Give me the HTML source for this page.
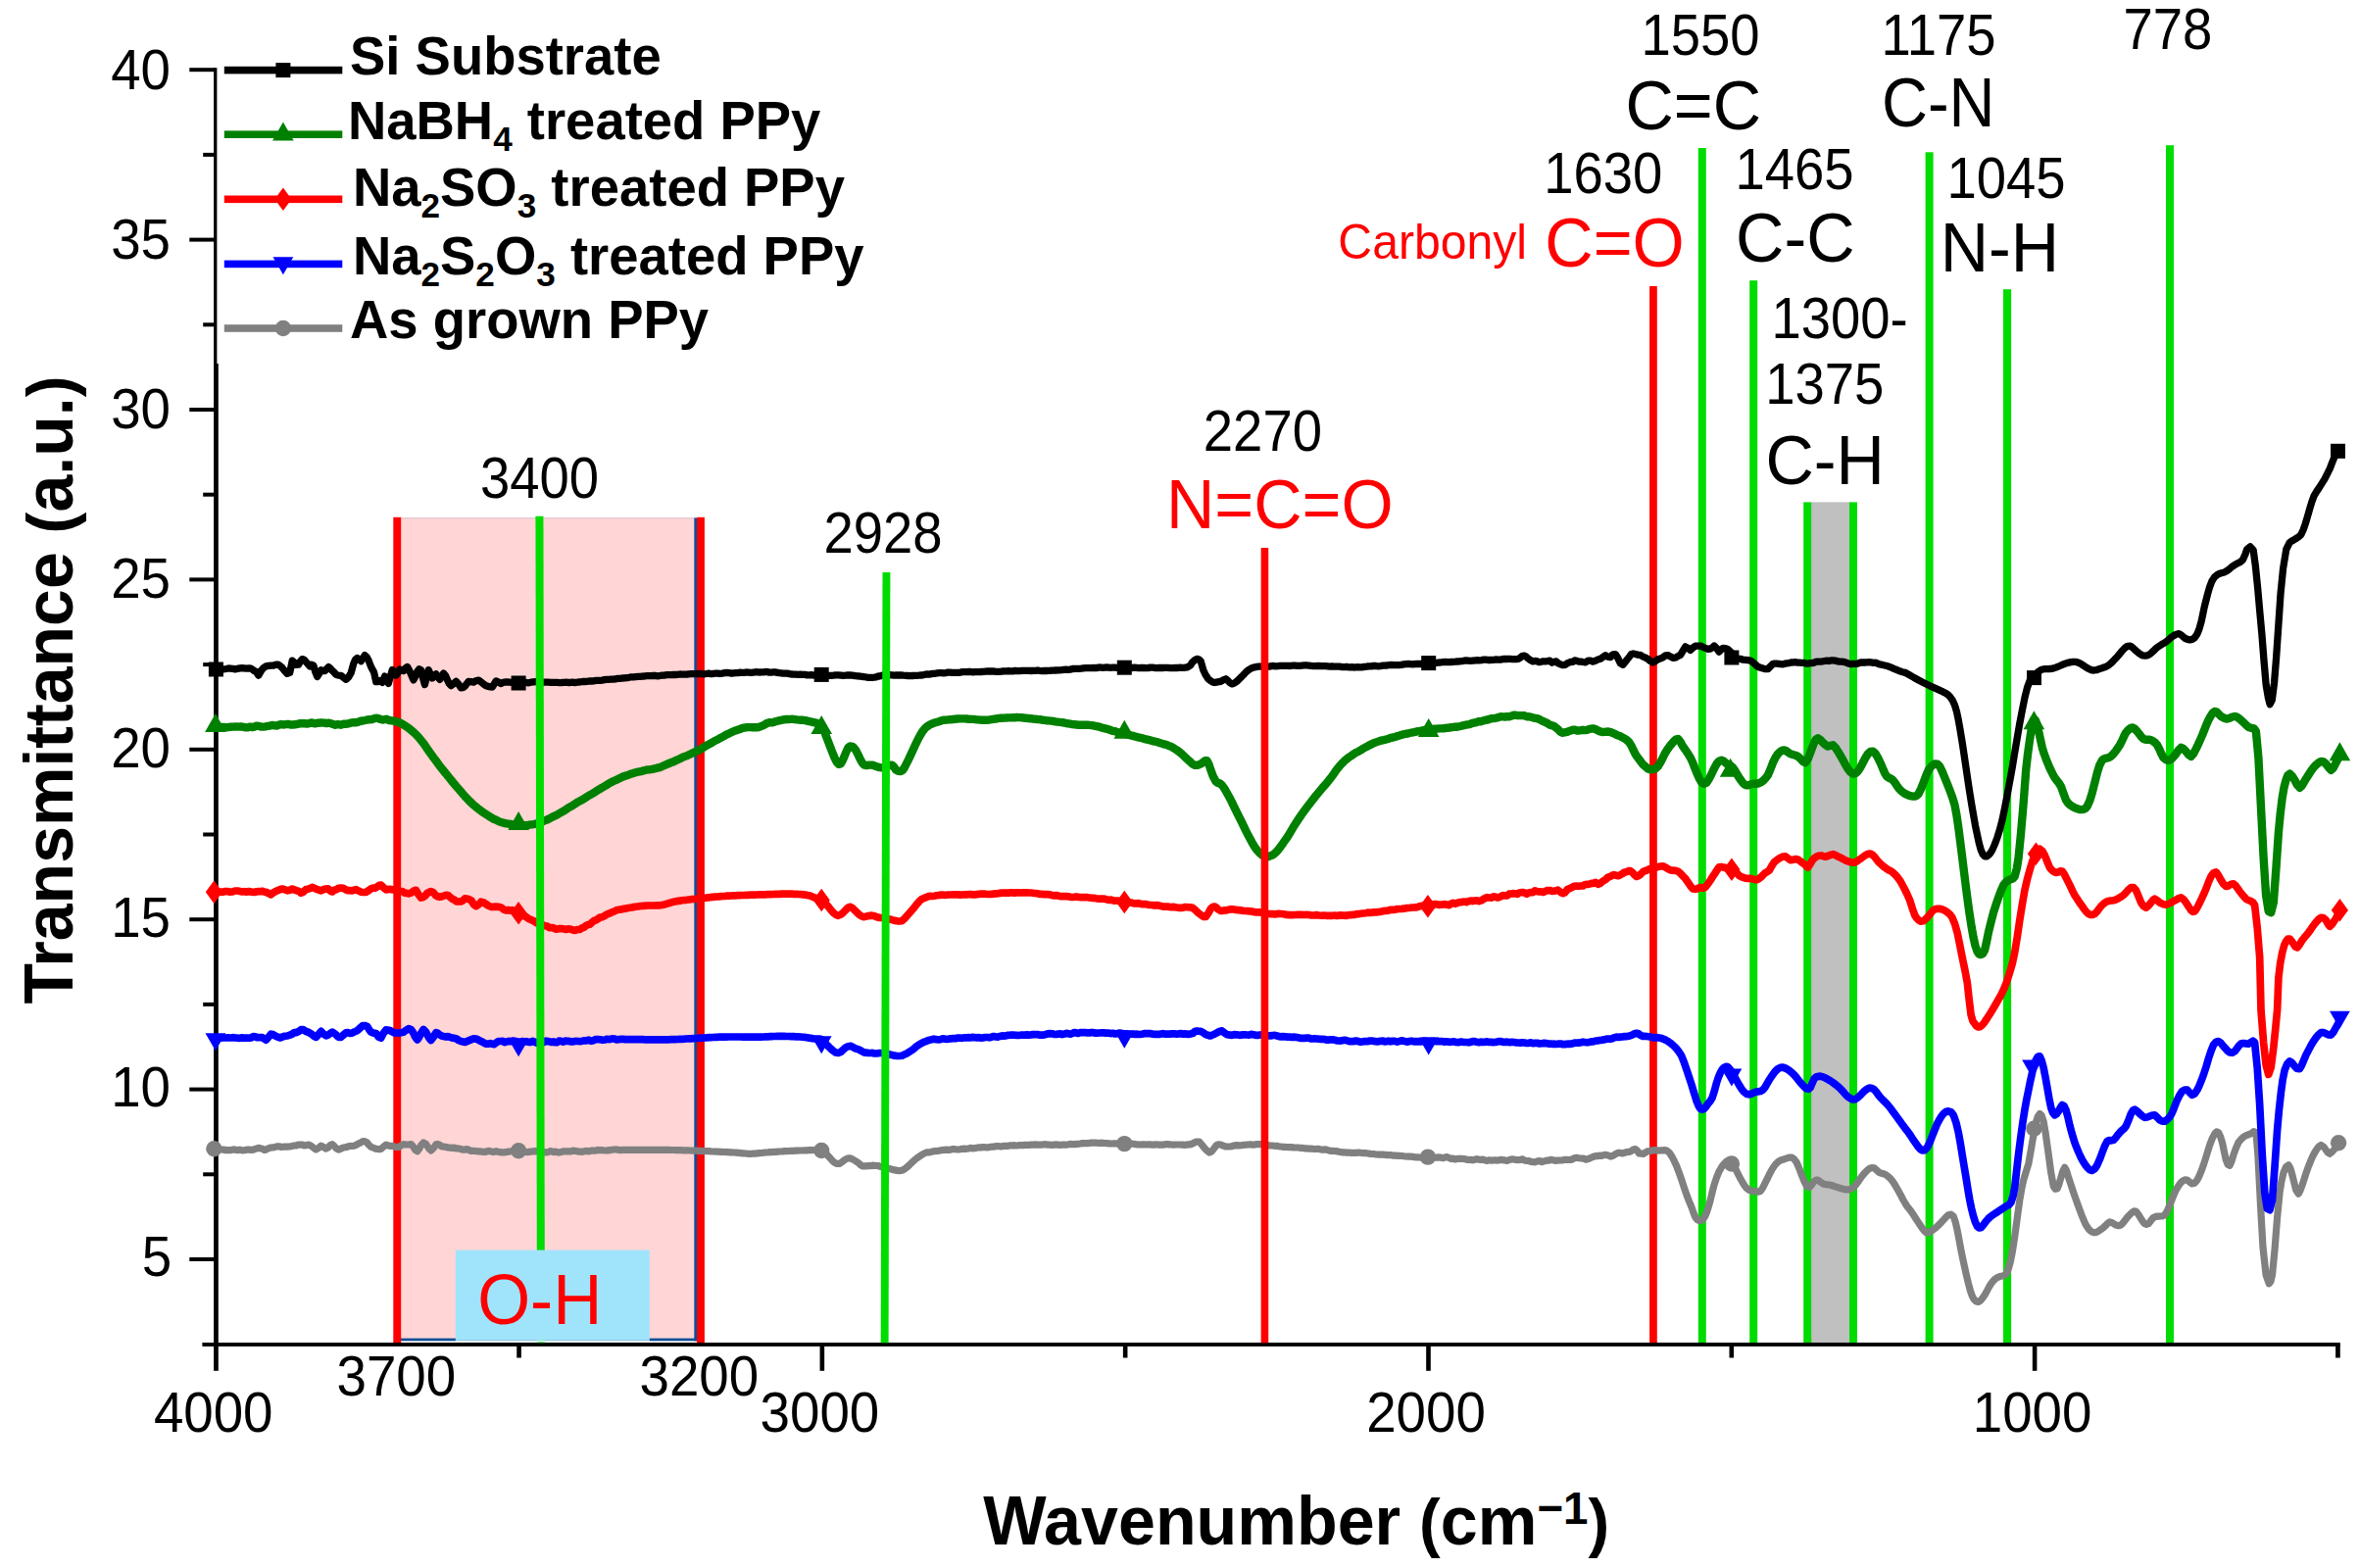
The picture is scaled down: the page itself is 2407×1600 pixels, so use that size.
<!DOCTYPE html>
<html lang="en"><head><meta charset="utf-8"><title>FTIR spectra</title>
<style>html,body{margin:0;padding:0;background:#fff}body{width:2407px;height:1600px;overflow:hidden}svg{display:block}text{font-family:"Liberation Sans",Arial,Helvetica,sans-serif}</style></head><body>
<svg xmlns="http://www.w3.org/2000/svg" width="2407" height="1600" viewBox="0 0 2407 1600">
<rect width="2407" height="1600" fill="#fff"/>
<rect x="405" y="528" width="306" height="840.3" fill="#ffd5d5"/>
<rect x="405" y="528" width="306" height="1.4" fill="#e3cbd3"/>
<rect x="1848" y="512.4" width="39.5" height="857.8" fill="#c0c0c0"/>
<rect x="708.3" y="528.5" width="2.7" height="839.8" fill="#0b4f9a"/>
<rect x="409" y="1365.6" width="302" height="2.7" fill="#0b4f9a"/>
<rect x="401.3" y="527.8" width="7.9" height="842.4" fill="#ff0000"/>
<rect x="711.0" y="527.8" width="7.9" height="842.4" fill="#ff0000"/>
<rect x="1683.1" y="292.0" width="7.7" height="1078.2" fill="#ff0000"/>
<rect x="1732.8" y="151.0" width="8.0" height="1219.2" fill="#00dc00"/>
<rect x="1785.2" y="286.2" width="8.0" height="1084.0" fill="#00dc00"/>
<rect x="1840.2" y="512.4" width="8.0" height="857.8" fill="#00dc00"/>
<rect x="1887.0" y="512.4" width="8.0" height="857.8" fill="#00dc00"/>
<rect x="1964.6" y="155.3" width="8.0" height="1214.9" fill="#00dc00"/>
<rect x="2044.0" y="295.2" width="8.1" height="1075.0" fill="#00dc00"/>
<rect x="2210.0" y="148.2" width="8.0" height="1222.0" fill="#00dc00"/>
<g fill="#000">
<rect x="218.10" y="69.2" width="4.7" height="1329.6"/>
<rect x="206.4" y="1370.00" width="2181.4" height="3.9"/>
<rect x="193.3" y="1283.00" width="26" height="4.0"/>
<rect x="193.3" y="1109.60" width="26" height="4.0"/>
<rect x="193.3" y="936.20" width="26" height="4.0"/>
<rect x="193.3" y="762.80" width="26" height="4.0"/>
<rect x="193.3" y="589.40" width="26" height="4.0"/>
<rect x="193.3" y="416.00" width="26" height="4.0"/>
<rect x="193.3" y="242.60" width="26" height="4.0"/>
<rect x="193.3" y="69.20" width="26" height="4.0"/>
<rect x="207.2" y="1196.30" width="12" height="4.0"/>
<rect x="207.2" y="1022.90" width="12" height="4.0"/>
<rect x="207.2" y="849.50" width="12" height="4.0"/>
<rect x="207.2" y="676.10" width="12" height="4.0"/>
<rect x="207.2" y="502.70" width="12" height="4.0"/>
<rect x="207.2" y="329.30" width="12" height="4.0"/>
<rect x="207.2" y="155.90" width="12" height="4.0"/>
<rect x="836.56" y="1372.0" width="4.6" height="26.8"/>
<rect x="1455.18" y="1372.0" width="4.6" height="26.8"/>
<rect x="2073.80" y="1372.0" width="4.6" height="26.8"/>
<rect x="527.25" y="1372.0" width="4.6" height="13.5"/>
<rect x="1145.87" y="1372.0" width="4.6" height="13.5"/>
<rect x="1764.49" y="1372.0" width="4.6" height="13.5"/>
<rect x="2383.1" y="1372.0" width="4.7" height="13.5"/>
</g>
<g fill="none" stroke-linejoin="round" stroke-linecap="round">
<path d="M218.4 1172.7 219.7 1172.8 221.3 1172.9 223.3 1173.0 225.5 1173.0 227.9 1173.1 230.5 1173.6 233.1 1173.6 235.7 1173.6 238.3 1172.9 240.3 1173.2 242.4 1173.6 244.7 1173.2 247.0 1173.8 249.4 1173.6 251.8 1173.2 254.1 1173.1 256.4 1173.4 258.5 1173.1 260.5 1172.4 262.3 1171.8 263.8 1171.4 267.7 1172.2 269.7 1173.4 271.4 1173.1 273.7 1171.9 276.5 1171.0 278.2 1170.8 280.2 1170.6 282.4 1169.9 284.8 1169.8 287.1 1170.5 289.3 1170.2 291.4 1170.1 293.5 1170.2 295.7 1169.9 297.8 1169.5 299.9 1169.0 302.0 1169.0 304.2 1168.2 306.5 1168.1 308.7 1168.2 310.9 1169.0 313.0 1168.5 314.8 1168.0 317.8 1169.5 320.3 1171.5 322.4 1172.9 325.2 1171.3 327.6 1169.1 330.0 1170.4 332.7 1172.1 334.7 1171.1 336.9 1168.6 339.0 1167.7 341.1 1169.5 343.2 1171.9 345.4 1173.1 347.8 1172.1 350.3 1171.0 353.1 1170.7 355.0 1170.0 357.0 1169.4 359.2 1169.5 361.3 1169.2 363.3 1168.4 365.6 1167.0 368.0 1165.9 370.2 1164.7 372.2 1164.6 374.4 1165.7 376.3 1168.2 378.6 1170.3 380.4 1171.0 382.6 1171.9 384.9 1172.5 387.0 1172.6 388.8 1172.4 391.3 1170.1 393.9 1168.1 395.6 1168.7 397.7 1169.3 399.9 1169.3 402.1 1169.9 404.1 1170.5 406.8 1170.5 409.3 1168.9 411.7 1167.6 414.3 1168.0 416.9 1168.0 419.4 1167.6 421.6 1169.9 423.7 1173.4 425.8 1174.7 427.8 1172.1 429.9 1168.3 432.1 1166.0 434.7 1167.4 437.4 1171.6 439.8 1174.0 442.2 1171.7 444.9 1167.8 446.6 1167.4 448.5 1168.3 450.6 1169.8 452.8 1170.2 455.1 1170.3 457.1 1171.0 459.2 1171.1 461.3 1171.3 463.5 1171.2 465.7 1172.0 467.9 1171.9 470.0 1172.5 472.1 1173.2 474.2 1173.2 476.4 1172.5 478.5 1173.4 480.6 1174.4 482.7 1174.3 484.9 1174.5 487.0 1174.8 489.1 1174.9 491.2 1175.1 493.4 1175.4 495.4 1175.3 497.2 1174.6 499.1 1174.4 501.1 1175.0 503.4 1175.4 506.1 1174.7 508.0 1175.2 510.0 1175.7 512.1 1175.8 514.3 1175.9 516.6 1175.5 519.0 1175.1 521.5 1174.8 524.0 1174.3 526.5 1174.4 529.1 1174.9 531.1 1175.3 533.1 1174.8 535.3 1175.3 537.4 1175.6 539.6 1175.4 541.8 1175.1 544.1 1174.8 546.3 1174.6 548.5 1174.9 550.7 1175.5 552.9 1175.3 555.1 1175.7 557.1 1175.8 559.3 1175.6 561.2 1174.6 563.1 1175.1 564.9 1175.6 566.7 1175.0 568.5 1175.7 570.3 1176.1 572.4 1175.6 574.5 1174.9 577.0 1174.8 579.6 1174.9 582.7 1174.8 584.4 1174.2 586.2 1174.3 588.0 1174.6 590.0 1175.1 592.0 1175.0 594.1 1175.4 596.3 1174.8 598.5 1174.4 600.8 1174.9 603.1 1174.2 605.4 1174.0 607.8 1174.1 610.1 1173.4 612.5 1173.7 614.9 1173.7 617.3 1174.0 619.7 1173.9 622.1 1173.6 624.5 1173.3 626.8 1173.0 629.1 1172.9 631.4 1173.4 633.7 1173.6 635.9 1173.3 638.2 1173.3 640.4 1173.4 642.7 1173.4 645.0 1173.3 647.3 1173.3 649.6 1173.3 651.9 1173.3 654.2 1173.3 656.5 1173.3 658.8 1173.3 661.1 1173.3 663.4 1173.3 665.7 1173.3 667.9 1173.3 670.1 1173.3 672.3 1173.3 674.5 1173.4 676.6 1173.4 678.7 1173.4 680.7 1173.4 682.7 1173.4 684.7 1173.5 687.3 1173.5 689.9 1173.6 692.4 1173.6 694.8 1173.7 697.3 1173.8 699.7 1173.8 702.0 1173.9 704.3 1174.0 706.5 1174.1 708.7 1174.2 710.9 1174.2 713.0 1174.3 715.1 1174.4 717.1 1174.5 719.1 1174.6 721.1 1174.7 723.0 1174.7 725.6 1174.9 728.0 1175.0 730.4 1175.1 732.7 1175.2 734.9 1175.3 737.0 1175.4 739.0 1175.5 741.0 1175.6 742.9 1175.7 744.8 1175.8 746.7 1175.9 748.5 1176.0 751.1 1176.2 753.5 1176.4 755.8 1176.6 758.0 1176.8 760.2 1177.0 762.2 1177.2 764.3 1177.3 766.3 1177.3 768.6 1177.2 770.8 1177.1 772.9 1176.9 775.0 1176.7 777.1 1176.5 779.3 1176.2 781.6 1176.0 783.6 1175.9 785.6 1175.7 787.7 1175.6 789.8 1175.4 791.9 1175.3 794.1 1175.1 796.2 1175.0 798.3 1174.9 800.4 1174.7 802.7 1174.6 804.9 1174.5 807.1 1174.4 809.3 1174.3 811.5 1174.2 813.7 1174.1 815.9 1174.0 818.3 1174.0 820.5 1173.9 822.8 1173.8 825.2 1173.7 827.7 1173.6 830.1 1173.5 832.4 1173.5 834.6 1173.6 836.5 1173.7 838.2 1174.0 841.4 1175.5 843.3 1177.6 845.1 1179.8 847.3 1182.1 849.4 1184.5 851.4 1186.2 854.1 1187.5 856.5 1187.5 859.1 1185.8 861.6 1183.7 864.2 1182.3 866.7 1181.8 869.2 1182.5 871.8 1184.0 874.0 1185.3 876.2 1186.9 878.2 1188.7 879.9 1189.9 882.0 1189.8 883.7 1189.9 885.7 1189.7 887.9 1189.7 890.1 1189.1 892.2 1189.3 894.3 1189.5 896.4 1189.7 898.6 1190.5 900.6 1190.9 902.4 1191.4 905.2 1192.3 907.6 1192.6 910.1 1193.2 912.7 1193.9 915.4 1194.4 917.8 1194.7 920.3 1194.3 922.9 1193.0 925.2 1191.2 927.9 1188.8 930.5 1186.2 933.1 1183.8 935.6 1181.8 938.2 1180.0 940.3 1178.6 942.5 1177.2 945.8 1175.8 947.5 1175.9 949.5 1175.6 951.7 1175.1 953.9 1174.6 956.3 1174.4 958.8 1174.1 961.2 1173.6 963.7 1173.4 965.8 1173.2 967.9 1173.3 970.1 1173.1 972.3 1172.5 974.5 1172.7 976.8 1173.0 979.2 1172.8 981.6 1172.4 984.1 1172.2 986.0 1172.3 988.0 1172.0 990.1 1171.4 992.2 1171.8 994.3 1171.7 996.5 1171.2 998.7 1170.9 1000.9 1170.8 1003.1 1170.6 1005.3 1170.7 1007.4 1171.0 1009.6 1170.5 1011.7 1170.2 1013.8 1170.1 1016.0 1169.7 1018.1 1169.5 1020.2 1169.8 1022.3 1169.8 1024.5 1169.4 1026.6 1169.4 1028.7 1169.3 1030.9 1168.8 1033.0 1168.8 1035.1 1168.7 1037.2 1169.0 1039.4 1168.7 1041.5 1168.5 1043.6 1168.7 1045.7 1168.3 1047.9 1168.3 1050.0 1168.4 1052.1 1168.2 1054.2 1168.1 1056.4 1167.9 1058.5 1168.1 1060.6 1168.0 1062.7 1168.1 1064.9 1167.8 1067.0 1167.7 1069.1 1168.1 1071.2 1168.1 1073.4 1168.3 1075.5 1168.1 1077.6 1167.9 1079.7 1168.2 1081.9 1168.3 1084.0 1168.2 1086.1 1168.1 1088.2 1168.1 1090.3 1167.8 1092.3 1167.4 1094.2 1167.6 1096.2 1167.7 1098.2 1167.4 1100.3 1167.3 1102.4 1167.0 1104.5 1166.6 1106.8 1166.6 1109.1 1166.6 1111.6 1166.4 1113.6 1166.1 1115.7 1166.1 1117.8 1166.0 1120.0 1166.3 1122.3 1166.4 1124.6 1166.2 1127.0 1166.5 1129.3 1166.6 1131.7 1166.8 1134.1 1167.0 1136.4 1166.9 1138.7 1166.9 1141.0 1167.1 1143.2 1167.3 1145.3 1167.2 1147.3 1167.4 1149.8 1167.5 1152.1 1167.3 1154.4 1167.0 1156.6 1167.3 1158.8 1167.6 1161.0 1167.8 1163.1 1168.0 1165.1 1167.9 1167.2 1167.8 1169.3 1168.0 1171.3 1167.9 1173.4 1167.8 1175.4 1168.1 1177.7 1168.1 1180.0 1167.8 1182.3 1168.1 1184.6 1168.1 1186.9 1168.1 1189.1 1167.7 1191.3 1167.6 1193.5 1167.8 1195.5 1168.0 1197.4 1168.1 1199.2 1168.0 1200.9 1168.0 1203.9 1168.0 1206.4 1168.2 1208.6 1168.4 1210.5 1168.2 1212.1 1167.9 1213.7 1168.0 1216.7 1167.0 1218.8 1165.8 1221.3 1165.0 1223.9 1165.2 1226.4 1168.2 1229.0 1171.5 1231.6 1174.2 1234.1 1176.1 1236.1 1175.1 1237.9 1173.0 1239.8 1170.4 1241.7 1168.2 1243.6 1167.8 1245.6 1168.0 1247.5 1168.9 1250.7 1170.0 1252.4 1170.0 1254.4 1170.0 1256.7 1169.7 1259.2 1168.9 1261.9 1168.7 1264.7 1168.8 1266.7 1168.6 1268.8 1168.3 1271.1 1168.2 1273.5 1168.0 1275.9 1167.7 1278.3 1168.2 1280.6 1167.9 1282.9 1167.5 1285.1 1167.6 1287.4 1167.6 1289.6 1167.8 1291.6 1168.1 1293.7 1168.6 1295.8 1169.0 1298.0 1169.0 1300.4 1169.3 1303.0 1169.3 1304.8 1169.7 1306.8 1170.0 1308.8 1170.3 1310.9 1170.4 1313.0 1170.5 1315.2 1170.6 1317.5 1170.5 1319.7 1170.9 1321.9 1171.0 1324.1 1171.0 1326.3 1171.3 1328.5 1171.4 1330.7 1171.8 1332.9 1171.8 1335.3 1172.1 1337.7 1172.0 1340.1 1172.3 1342.4 1172.5 1344.7 1172.3 1346.9 1172.8 1349.0 1173.1 1350.9 1173.1 1352.5 1172.9 1354.0 1173.3 1356.7 1174.2 1357.3 1174.3 1360.0 1174.4 1361.4 1174.5 1363.1 1174.6 1365.0 1174.9 1367.1 1175.4 1369.2 1175.8 1371.5 1175.9 1373.9 1176.1 1376.3 1176.2 1378.7 1176.3 1381.0 1176.4 1383.3 1176.3 1385.5 1176.2 1387.6 1176.2 1389.8 1176.5 1391.9 1176.7 1394.0 1176.7 1396.1 1177.0 1398.3 1177.4 1400.4 1177.5 1402.5 1177.7 1404.6 1178.0 1406.8 1178.1 1408.9 1178.1 1411.0 1178.2 1413.2 1178.3 1415.3 1178.6 1417.5 1178.6 1419.7 1178.7 1421.9 1179.1 1424.1 1179.2 1426.3 1179.4 1428.4 1179.3 1430.5 1179.5 1432.6 1179.8 1434.6 1180.0 1436.5 1180.1 1439.0 1180.2 1441.5 1180.4 1443.8 1180.8 1446.1 1180.9 1448.3 1181.0 1450.5 1181.3 1452.7 1181.1 1454.8 1181.3 1456.9 1181.6 1459.2 1181.0 1461.4 1180.4 1463.5 1181.0 1465.5 1181.3 1467.7 1180.9 1469.9 1181.1 1472.2 1181.7 1474.8 1180.9 1476.7 1180.7 1478.6 1181.6 1480.6 1182.4 1482.7 1182.2 1484.9 1183.0 1487.1 1182.4 1489.3 1182.3 1491.5 1182.3 1493.7 1182.5 1496.0 1183.1 1498.2 1183.5 1500.3 1183.4 1502.4 1183.8 1504.6 1183.4 1506.7 1182.7 1508.9 1183.1 1511.1 1183.4 1513.2 1183.1 1515.4 1183.9 1517.5 1184.4 1519.6 1183.8 1521.7 1184.2 1523.8 1183.9 1525.8 1183.9 1528.2 1184.1 1530.7 1183.4 1533.1 1183.6 1535.4 1183.9 1537.8 1184.4 1540.1 1183.5 1542.3 1182.9 1544.6 1183.0 1546.7 1183.5 1548.8 1183.7 1551.3 1183.5 1553.6 1182.8 1555.8 1184.2 1558.0 1184.5 1560.2 1184.6 1562.3 1185.5 1564.4 1185.7 1566.6 1185.8 1568.9 1184.8 1571.2 1184.6 1573.4 1185.6 1575.7 1184.9 1578.0 1184.2 1580.2 1184.2 1582.4 1183.3 1584.5 1183.7 1586.9 1184.3 1589.2 1184.1 1591.6 1184.0 1593.8 1184.0 1596.0 1183.4 1598.0 1183.4 1599.8 1183.5 1602.4 1183.4 1604.5 1182.9 1606.5 1181.7 1608.7 1181.3 1610.9 1181.7 1613.3 1182.0 1615.8 1182.1 1618.1 1183.1 1620.2 1182.7 1622.9 1181.6 1625.3 1180.5 1627.9 1179.6 1629.8 1179.7 1632.0 1179.1 1634.2 1179.4 1636.3 1178.7 1638.1 1178.3 1640.8 1178.9 1643.2 1180.1 1645.5 1179.5 1648.2 1177.7 1650.8 1176.4 1653.3 1176.4 1655.7 1176.9 1658.5 1176.0 1660.4 1175.5 1662.7 1175.3 1664.9 1174.2 1667.0 1172.8 1668.7 1172.7 1670.8 1174.3 1672.5 1177.0 1674.4 1177.2 1676.7 1177.4 1678.9 1176.1 1681.0 1174.8 1683.1 1174.5 1685.3 1174.1 1687.3 1173.7 1689.3 1173.5 1691.6 1174.2 1693.8 1173.9 1696.2 1173.8 1698.5 1173.6 1700.6 1174.0 1703.4 1176.3 1705.7 1179.8 1708.2 1184.4 1710.8 1190.1 1713.3 1196.7 1715.9 1204.1 1718.4 1211.8 1721.0 1219.4 1723.6 1226.1 1726.1 1232.1 1728.1 1237.9 1729.9 1242.3 1731.8 1244.6 1733.7 1245.4 1735.6 1245.5 1737.6 1244.4 1739.5 1241.5 1741.4 1237.2 1743.3 1231.4 1745.2 1224.5 1747.0 1216.9 1749.0 1209.2 1751.5 1201.7 1754.1 1195.2 1756.7 1190.7 1759.2 1187.5 1761.9 1184.9 1764.3 1183.7 1766.2 1184.7 1768.2 1187.5 1770.6 1192.1 1773.3 1197.7 1775.3 1201.7 1777.6 1205.8 1779.6 1209.2 1782.2 1212.4 1784.7 1214.3 1786.8 1215.0 1789.0 1215.4 1791.1 1215.6 1793.8 1216.2 1796.2 1215.6 1798.7 1211.9 1801.3 1206.6 1803.4 1202.5 1805.5 1197.9 1807.7 1193.9 1809.8 1190.6 1811.9 1187.9 1814.1 1185.7 1816.6 1184.2 1819.2 1183.2 1821.7 1182.4 1824.0 1181.6 1826.1 1181.0 1828.1 1181.1 1830.7 1182.8 1833.2 1186.2 1835.8 1192.2 1838.3 1199.0 1840.9 1205.5 1843.4 1210.5 1845.4 1211.5 1847.2 1210.5 1849.2 1208.0 1851.1 1205.4 1852.9 1204.2 1854.9 1204.1 1857.2 1205.8 1860.0 1207.9 1862.4 1208.5 1865.0 1208.8 1867.7 1209.2 1870.2 1210.0 1872.8 1210.9 1875.3 1211.7 1877.9 1212.6 1880.5 1213.3 1883.0 1213.8 1885.2 1213.9 1887.4 1213.7 1889.3 1213.0 1891.9 1211.0 1894.4 1207.9 1896.5 1205.1 1898.6 1201.9 1900.8 1199.0 1903.0 1196.5 1905.2 1194.2 1907.2 1192.6 1909.8 1191.5 1912.3 1191.8 1914.8 1194.0 1917.4 1196.4 1919.4 1197.2 1921.6 1197.6 1923.8 1198.5 1925.9 1199.9 1928.0 1201.7 1930.2 1204.1 1932.2 1207.0 1934.3 1210.4 1936.5 1214.3 1939.1 1218.9 1941.7 1224.0 1944.2 1228.3 1946.1 1231.2 1947.9 1233.4 1949.9 1236.0 1952.3 1239.6 1955.0 1243.7 1957.5 1247.4 1959.8 1250.9 1962.0 1254.1 1963.9 1256.4 1965.7 1257.9 1967.7 1257.7 1970.0 1256.5 1972.7 1254.7 1975.4 1252.6 1978.0 1250.1 1980.7 1247.4 1983.0 1244.9 1985.7 1241.8 1988.1 1239.8 1990.8 1239.2 1993.2 1241.1 1995.2 1246.9 1997.1 1255.1 1999.0 1265.1 2000.9 1275.5 2002.8 1284.7 2004.7 1293.4 2006.6 1302.0 2008.5 1309.9 2010.4 1317.0 2012.4 1322.7 2014.3 1326.1 2016.2 1327.8 2018.0 1328.5 2020.0 1327.8 2022.4 1325.3 2025.1 1321.4 2027.1 1317.8 2029.3 1313.6 2031.5 1309.9 2033.6 1307.3 2035.6 1305.2 2037.9 1303.6 2040.5 1302.6 2043.2 1302.0 2045.5 1301.0 2047.7 1298.7 2049.3 1294.6 2051.3 1287.5 2053.2 1278.1 2055.1 1266.0 2057.0 1252.6 2058.9 1238.2 2060.8 1224.5 2062.7 1213.6 2064.7 1204.1 2067.2 1195.9 2069.8 1187.5 2071.7 1176.9 2073.6 1165.8 2075.5 1154.8 2077.4 1145.4 2079.3 1139.2 2081.2 1136.5 2083.1 1138.2 2085.1 1144.1 2087.0 1155.0 2088.9 1168.4 2090.9 1183.0 2092.7 1196.4 2095.3 1210.5 2097.1 1213.3 2099.1 1213.0 2101.0 1208.1 2102.9 1201.5 2104.8 1195.1 2106.7 1191.3 2108.6 1194.8 2110.6 1201.5 2113.0 1208.7 2115.7 1216.8 2117.7 1222.7 2119.9 1228.8 2122.1 1234.7 2124.2 1240.3 2126.4 1245.7 2128.4 1250.0 2131.1 1254.1 2133.5 1256.4 2135.9 1257.7 2138.6 1257.7 2141.0 1256.4 2143.7 1254.5 2146.3 1252.6 2148.5 1250.4 2150.6 1248.2 2152.7 1246.9 2154.8 1247.4 2157.0 1248.9 2159.0 1250.0 2161.6 1250.7 2164.1 1250.0 2166.2 1247.9 2168.4 1245.0 2170.5 1242.3 2173.2 1239.4 2175.6 1237.2 2177.5 1235.8 2179.4 1236.0 2182.0 1239.4 2184.6 1243.6 2186.5 1246.7 2188.4 1248.7 2190.2 1249.4 2192.2 1248.7 2194.7 1245.6 2197.3 1242.3 2199.8 1241.4 2202.4 1241.1 2204.5 1241.0 2206.7 1240.9 2208.8 1239.8 2211.3 1235.6 2213.9 1229.6 2215.9 1224.6 2218.1 1219.1 2220.3 1214.3 2222.4 1210.6 2224.6 1207.5 2226.6 1205.4 2229.3 1203.9 2231.7 1204.1 2234.3 1206.2 2236.8 1207.9 2239.3 1207.2 2241.9 1204.1 2244.0 1200.0 2246.2 1194.7 2248.3 1188.8 2250.5 1182.0 2252.7 1174.7 2254.7 1168.4 2257.4 1161.4 2259.8 1156.9 2261.8 1154.9 2263.6 1155.6 2265.5 1159.5 2267.5 1165.8 2269.4 1175.0 2271.3 1183.7 2273.2 1188.3 2275.1 1189.3 2276.9 1185.1 2278.9 1178.6 2281.3 1171.9 2284.0 1165.8 2286.1 1163.1 2288.2 1161.0 2290.4 1159.4 2292.6 1158.3 2294.8 1157.5 2296.8 1156.9 2299.6 1154.7 2301.9 1155.6 2303.9 1178.6 2306.5 1229.6 2309.0 1273.0 2312.1 1301.0 2315.2 1309.9 2316.9 1307.6 2318.5 1301.0 2321.0 1275.5 2323.6 1242.3 2326.1 1216.8 2327.9 1205.5 2330.0 1196.4 2332.5 1190.7 2335.1 1188.8 2337.1 1192.4 2338.9 1199.0 2340.9 1207.0 2342.7 1214.3 2345.3 1218.1 2346.9 1215.1 2349.1 1209.2 2351.0 1203.4 2353.2 1196.4 2355.5 1190.1 2357.6 1184.8 2359.7 1180.0 2361.8 1176.0 2364.0 1172.5 2366.2 1169.7 2368.2 1168.4 2370.9 1170.2 2373.3 1173.5 2375.2 1176.0 2377.2 1177.3 2379.7 1175.3 2382.3 1172.2 2384.5 1169.3 2386.1 1167.1" stroke="#808080" stroke-width="7.2"/>
<path d="M219.9 1059.2 221.3 1059.2 223.0 1059.3 225.1 1059.2 227.5 1058.9 230.0 1059.0 232.7 1058.9 235.5 1059.0 238.3 1058.7 240.2 1059.0 242.3 1059.2 244.6 1059.3 246.9 1058.9 249.3 1059.2 251.7 1059.0 254.1 1059.3 256.3 1058.9 258.5 1057.6 260.5 1057.8 262.3 1058.7 263.8 1058.7 267.7 1058.7 269.7 1060.0 271.4 1061.2 274.0 1058.2 276.5 1055.2 278.5 1055.6 280.8 1056.9 284.2 1058.4 286.0 1059.0 288.2 1058.0 290.7 1057.3 293.3 1057.0 295.8 1056.1 298.2 1055.1 300.3 1053.5 302.0 1053.7 305.2 1052.2 307.1 1050.7 309.5 1050.7 312.2 1052.5 314.8 1053.3 317.4 1054.8 320.1 1057.1 322.4 1058.4 325.2 1055.3 327.6 1052.4 330.0 1055.1 332.7 1056.8 334.7 1056.1 336.9 1054.5 339.0 1053.1 341.1 1054.4 343.2 1056.2 345.4 1058.4 347.8 1058.3 350.3 1056.1 353.1 1053.9 355.0 1053.6 357.0 1054.3 359.2 1054.1 361.3 1053.0 363.3 1052.2 365.6 1050.7 368.0 1048.4 370.2 1046.6 372.2 1046.5 374.6 1047.3 376.6 1050.5 378.6 1053.2 381.2 1054.1 383.7 1054.5 386.2 1058.2 388.8 1059.2 391.0 1054.6 393.9 1050.9 395.6 1051.2 397.7 1051.3 399.9 1052.6 402.1 1053.8 404.1 1054.0 406.8 1054.2 409.3 1053.8 411.7 1053.3 414.3 1051.3 416.9 1049.6 419.4 1050.6 421.6 1053.7 423.7 1058.2 425.8 1061.0 427.8 1058.0 429.9 1053.8 432.1 1050.5 434.7 1053.2 437.4 1058.5 439.8 1061.5 442.2 1058.3 444.9 1053.7 446.6 1054.2 448.5 1055.7 450.6 1057.0 452.8 1057.6 455.1 1058.1 457.1 1057.6 459.3 1058.4 461.5 1059.1 463.7 1059.4 465.8 1060.0 467.9 1061.5 470.1 1062.4 472.4 1062.9 474.5 1063.4 476.4 1062.6 478.1 1061.9 480.6 1060.9 483.2 1059.9 484.9 1059.8 486.9 1060.5 489.1 1061.7 491.3 1062.8 493.4 1063.8 495.7 1065.1 497.9 1065.2 500.1 1064.6 502.3 1065.2 504.3 1065.6 506.2 1064.1 508.4 1062.5 511.2 1062.5 513.0 1062.4 514.8 1063.6 516.8 1062.9 519.0 1062.4 521.2 1062.7 523.7 1062.1 526.3 1062.5 529.1 1063.2 530.9 1063.4 532.9 1062.5 534.9 1063.0 537.0 1062.7 539.2 1063.3 541.5 1063.4 543.8 1062.4 546.1 1063.5 548.4 1064.3 550.6 1063.7 552.9 1063.9 555.0 1063.5 557.1 1062.2 559.3 1062.6 561.2 1063.0 563.1 1063.5 564.9 1062.9 566.7 1063.7 568.5 1063.6 570.3 1062.1 572.4 1062.4 574.5 1063.1 577.0 1062.1 579.6 1062.3 582.7 1062.9 584.4 1062.9 586.2 1062.5 588.0 1062.4 590.0 1062.5 592.0 1062.6 594.1 1062.3 596.3 1061.9 598.5 1061.8 600.8 1061.2 603.1 1062.2 605.4 1061.7 607.8 1060.6 610.1 1060.5 612.5 1060.8 614.9 1061.3 617.3 1061.0 619.7 1060.3 622.1 1060.6 624.5 1059.9 626.8 1060.0 629.1 1060.8 631.4 1060.7 633.7 1060.3 635.9 1060.4 638.1 1060.6 640.3 1060.6 642.5 1060.6 644.8 1060.6 647.0 1060.7 649.2 1060.7 651.4 1060.7 653.6 1060.7 655.9 1060.7 658.1 1060.8 660.3 1060.8 662.5 1060.8 664.7 1060.8 666.9 1060.8 669.2 1060.8 671.4 1060.9 673.6 1060.9 675.8 1060.8 678.0 1060.8 680.3 1060.8 682.5 1060.8 684.7 1060.7 686.9 1060.7 689.2 1060.6 691.4 1060.5 693.7 1060.4 696.0 1060.3 698.3 1060.2 700.6 1060.0 702.9 1059.9 705.3 1059.8 707.6 1059.6 709.9 1059.5 712.1 1059.4 714.4 1059.2 716.7 1059.1 718.9 1059.0 721.1 1058.8 723.3 1058.7 725.5 1058.6 727.6 1058.5 729.7 1058.4 731.7 1058.3 733.7 1058.2 735.7 1058.2 738.3 1058.1 740.9 1058.1 743.4 1058.0 746.0 1058.0 748.4 1058.0 750.8 1058.0 753.2 1058.0 755.6 1058.0 757.8 1058.1 760.1 1058.1 762.2 1058.1 764.4 1058.1 766.4 1058.2 768.4 1058.2 770.3 1058.2 772.2 1058.2 774.0 1058.2 776.8 1058.1 779.3 1058.0 781.6 1057.9 783.7 1057.8 785.6 1057.7 787.5 1057.6 789.3 1057.5 791.2 1057.5 793.2 1057.4 795.3 1057.4 797.6 1057.4 800.0 1057.4 802.4 1057.5 804.9 1057.5 807.3 1057.6 809.7 1057.7 812.1 1057.8 814.3 1057.9 816.4 1058.0 818.3 1058.2 821.0 1058.4 823.5 1058.7 825.6 1059.1 827.6 1059.4 829.3 1059.7 831.0 1059.9 833.8 1060.1 836.0 1060.0 838.2 1060.7 840.4 1062.6 842.7 1065.1 845.1 1067.6 847.6 1070.0 850.3 1072.4 852.7 1074.0 855.4 1074.4 857.8 1073.5 860.4 1071.2 862.9 1068.9 865.4 1067.7 868.0 1067.4 870.0 1068.2 872.1 1069.6 874.4 1070.4 876.7 1071.2 879.3 1072.7 882.0 1074.1 883.9 1074.1 885.9 1074.5 888.0 1074.5 890.2 1074.4 892.2 1075.0 894.3 1075.0 896.4 1074.7 898.6 1074.5 900.6 1074.5 902.4 1074.5 905.2 1075.1 907.6 1076.0 910.1 1076.6 912.7 1077.2 915.4 1077.5 917.8 1077.5 920.3 1077.2 922.9 1076.0 925.2 1075.0 927.9 1073.3 930.5 1071.6 933.0 1069.7 935.5 1067.4 938.2 1065.7 940.2 1064.6 942.4 1063.4 944.7 1062.6 947.1 1061.7 949.0 1061.1 950.8 1060.7 952.8 1060.2 955.3 1060.6 958.6 1060.8 960.2 1060.4 962.0 1059.8 964.0 1060.1 966.0 1060.3 968.2 1060.1 970.4 1059.8 972.7 1059.6 975.1 1059.7 977.4 1059.1 979.7 1059.2 981.9 1059.3 984.1 1058.8 986.2 1058.9 988.3 1058.7 990.5 1058.8 992.6 1058.4 994.7 1058.7 996.8 1058.9 999.0 1058.7 1001.1 1059.1 1003.2 1058.9 1005.3 1058.5 1007.5 1058.5 1009.6 1058.8 1011.7 1058.2 1013.8 1057.5 1016.0 1057.9 1018.1 1058.1 1020.2 1057.4 1022.3 1056.9 1024.5 1057.1 1026.6 1056.9 1028.7 1056.3 1030.9 1056.2 1033.0 1056.0 1035.1 1056.2 1037.2 1056.3 1039.4 1056.5 1041.5 1056.2 1043.6 1056.1 1045.7 1056.1 1047.9 1055.9 1050.0 1056.1 1052.1 1055.9 1054.2 1055.6 1056.4 1055.6 1058.5 1055.5 1060.6 1056.2 1062.7 1056.0 1064.9 1056.1 1067.0 1055.5 1069.1 1054.8 1071.2 1054.7 1073.4 1054.8 1075.5 1055.3 1077.6 1055.5 1079.7 1055.1 1081.9 1054.9 1084.0 1055.6 1086.1 1055.1 1088.2 1054.4 1090.3 1054.7 1092.3 1055.2 1094.2 1054.5 1096.2 1053.6 1098.2 1053.9 1100.3 1054.4 1102.4 1053.7 1104.5 1053.5 1106.8 1053.6 1109.1 1053.8 1111.6 1053.9 1113.6 1053.6 1115.6 1053.7 1117.6 1054.1 1119.7 1054.1 1121.9 1054.0 1124.1 1053.8 1126.3 1053.9 1128.5 1054.1 1130.8 1054.1 1133.1 1054.6 1135.5 1054.3 1137.8 1055.0 1140.2 1054.6 1142.6 1054.1 1145.0 1054.5 1147.3 1055.0 1149.4 1054.9 1151.5 1055.1 1153.7 1055.1 1155.9 1055.0 1158.1 1055.4 1160.4 1055.2 1162.7 1055.5 1165.0 1055.2 1167.3 1054.7 1169.5 1054.6 1171.8 1054.7 1174.0 1054.7 1176.2 1055.1 1178.4 1055.3 1180.5 1055.4 1182.5 1055.5 1184.5 1055.0 1186.4 1054.7 1188.2 1055.1 1190.9 1055.1 1193.5 1055.1 1196.1 1054.9 1198.5 1054.9 1200.8 1055.2 1203.1 1054.9 1205.2 1054.7 1207.2 1055.2 1209.0 1054.9 1210.7 1055.0 1212.3 1055.5 1213.7 1055.3 1217.3 1054.3 1218.7 1052.8 1220.1 1052.0 1222.7 1052.2 1225.2 1052.3 1227.6 1053.6 1230.3 1055.6 1232.3 1056.2 1234.6 1057.0 1236.6 1056.3 1239.3 1055.2 1241.7 1053.9 1244.3 1052.4 1246.8 1051.8 1248.9 1053.6 1251.9 1055.7 1253.5 1055.9 1255.2 1056.2 1257.0 1056.3 1259.2 1055.7 1261.7 1055.8 1264.7 1056.3 1266.4 1056.2 1268.2 1055.8 1270.2 1055.8 1272.3 1056.0 1274.4 1056.1 1276.7 1055.4 1278.9 1055.7 1281.2 1056.3 1283.5 1056.4 1285.8 1056.0 1288.0 1055.7 1290.2 1056.4 1292.3 1056.8 1294.5 1056.8 1296.6 1056.9 1298.7 1056.5 1300.8 1056.4 1303.0 1057.0 1305.1 1057.6 1307.2 1057.9 1309.3 1057.7 1311.5 1057.8 1313.6 1058.2 1315.7 1058.1 1317.9 1058.3 1320.0 1058.2 1322.2 1058.3 1324.5 1058.7 1326.7 1059.3 1328.9 1059.4 1331.1 1059.4 1333.2 1059.2 1335.3 1059.0 1337.4 1059.8 1339.3 1060.0 1341.2 1059.7 1343.6 1060.0 1345.7 1060.2 1347.7 1060.3 1349.7 1060.3 1351.6 1060.5 1353.5 1061.1 1355.5 1061.1 1357.7 1060.9 1360.0 1060.9 1361.9 1061.2 1363.9 1061.9 1365.9 1062.0 1368.0 1062.1 1370.2 1061.6 1372.3 1061.3 1374.5 1061.9 1376.8 1062.6 1379.0 1062.7 1381.2 1062.6 1383.4 1062.1 1385.5 1062.4 1387.6 1063.1 1389.5 1063.1 1391.4 1062.7 1393.2 1062.7 1395.1 1062.7 1396.9 1062.2 1398.9 1062.1 1400.9 1062.2 1403.2 1062.7 1405.5 1062.9 1408.2 1062.3 1411.0 1062.2 1412.8 1062.9 1414.7 1062.7 1416.7 1062.2 1418.8 1062.8 1421.0 1062.4 1423.3 1062.4 1425.6 1063.1 1428.0 1062.4 1430.4 1061.8 1432.9 1062.4 1435.3 1063.1 1437.8 1062.6 1440.2 1062.2 1442.6 1062.8 1445.0 1062.6 1447.3 1062.8 1449.6 1062.9 1451.7 1062.4 1453.8 1062.0 1455.8 1062.3 1457.7 1062.7 1460.4 1062.3 1462.9 1062.3 1465.3 1062.6 1467.6 1062.7 1469.8 1062.5 1471.9 1062.7 1474.0 1063.1 1475.9 1062.8 1477.9 1063.2 1479.8 1063.3 1481.7 1063.0 1483.7 1062.9 1485.6 1063.5 1487.6 1063.7 1489.8 1063.2 1492.1 1063.2 1494.2 1063.5 1496.4 1063.5 1498.5 1063.8 1500.6 1063.4 1502.7 1062.6 1504.7 1062.7 1506.8 1063.2 1508.9 1063.6 1510.9 1063.2 1513.1 1063.3 1515.2 1063.3 1517.3 1062.9 1519.4 1063.4 1521.6 1063.4 1523.7 1063.6 1525.8 1063.5 1527.9 1063.0 1530.1 1062.5 1532.2 1062.9 1534.3 1063.5 1536.4 1063.2 1538.6 1063.4 1540.7 1063.6 1542.8 1063.3 1544.9 1063.5 1547.1 1063.9 1549.2 1064.0 1551.3 1064.2 1553.5 1063.8 1555.6 1064.0 1557.7 1064.5 1559.8 1064.3 1562.0 1063.9 1564.1 1064.6 1566.2 1064.4 1568.5 1064.3 1570.8 1065.0 1573.1 1064.7 1575.4 1064.4 1577.6 1064.6 1579.9 1065.1 1582.0 1065.0 1584.1 1065.3 1586.1 1065.2 1587.9 1065.5 1589.6 1065.2 1592.5 1065.0 1594.8 1065.7 1596.8 1065.7 1598.6 1065.3 1600.4 1065.1 1602.3 1065.3 1604.5 1064.9 1606.6 1064.2 1608.7 1064.2 1610.9 1064.2 1613.0 1063.7 1615.1 1063.2 1617.2 1063.5 1619.4 1063.8 1621.5 1063.5 1623.6 1062.9 1625.7 1062.8 1627.9 1062.1 1630.0 1062.0 1632.1 1061.5 1634.2 1061.3 1636.4 1060.9 1638.5 1060.4 1640.6 1060.0 1642.8 1060.3 1645.0 1059.7 1647.1 1058.7 1649.3 1058.2 1651.4 1058.3 1653.4 1058.1 1655.6 1057.9 1657.8 1057.6 1659.9 1057.6 1661.8 1057.2 1663.6 1056.8 1666.0 1055.8 1668.0 1054.8 1669.9 1054.3 1671.9 1054.8 1673.9 1056.3 1676.3 1057.4 1678.2 1057.4 1680.3 1057.5 1682.4 1057.8 1684.6 1058.0 1686.5 1058.8 1689.3 1058.8 1691.7 1058.7 1694.2 1059.2 1696.7 1060.0 1699.3 1061.1 1701.8 1062.5 1704.4 1064.3 1707.0 1066.4 1709.5 1068.9 1711.8 1071.5 1713.9 1074.4 1715.9 1077.8 1718.5 1084.4 1721.0 1091.8 1723.5 1099.3 1726.1 1107.1 1728.7 1115.9 1731.2 1123.7 1733.2 1128.6 1735.0 1131.4 1736.9 1132.2 1738.8 1131.4 1740.7 1129.2 1742.7 1126.3 1744.9 1123.7 1747.2 1119.9 1749.5 1112.5 1751.6 1104.6 1753.5 1098.9 1755.4 1094.4 1757.3 1091.2 1759.2 1089.3 1761.1 1088.3 1763.1 1088.8 1765.5 1091.5 1768.2 1095.7 1770.2 1099.3 1772.5 1103.5 1774.5 1107.1 1777.2 1111.3 1779.6 1114.3 1782.1 1116.2 1784.7 1116.8 1786.7 1116.3 1788.9 1115.3 1791.1 1114.3 1793.6 1113.9 1796.3 1113.5 1798.8 1112.2 1801.0 1109.4 1803.1 1105.7 1805.2 1102.0 1807.3 1098.8 1809.5 1095.7 1811.5 1093.1 1814.1 1090.6 1816.6 1089.3 1818.6 1089.1 1820.7 1089.6 1823.0 1090.6 1825.5 1092.3 1828.2 1094.5 1830.7 1096.9 1832.9 1099.4 1835.0 1102.1 1837.0 1104.6 1839.3 1107.1 1841.5 1109.5 1843.4 1111.0 1845.5 1111.3 1847.2 1109.7 1849.1 1105.3 1851.1 1100.8 1853.5 1098.8 1856.2 1098.2 1858.2 1098.4 1860.3 1099.0 1862.6 1100.0 1865.0 1101.3 1867.6 1102.8 1870.2 1104.6 1872.8 1106.6 1875.4 1108.7 1877.9 1111.0 1880.1 1113.3 1882.2 1115.8 1884.2 1117.9 1886.4 1119.7 1888.6 1121.1 1890.6 1121.9 1893.2 1121.6 1895.7 1119.9 1897.8 1118.0 1900.0 1115.6 1902.1 1113.5 1904.7 1111.4 1907.2 1110.2 1909.7 1110.3 1912.3 1111.7 1914.3 1114.0 1916.4 1117.0 1918.7 1119.9 1921.1 1122.4 1923.7 1124.8 1926.3 1127.6 1928.8 1130.6 1931.2 1134.0 1934.0 1137.8 1936.0 1140.5 1938.2 1143.6 1940.5 1146.7 1942.6 1149.6 1944.2 1151.8 1947.3 1155.6 1949.6 1159.0 1952.3 1163.3 1955.0 1167.1 1957.2 1170.1 1959.4 1172.6 1961.3 1174.0 1964.0 1173.6 1966.4 1170.9 1969.0 1165.8 1971.5 1159.4 1974.0 1153.0 1976.6 1146.7 1978.7 1142.8 1980.9 1139.2 1983.0 1136.5 1985.7 1134.3 1988.1 1133.9 1990.7 1134.6 1993.2 1137.8 1995.9 1145.5 1998.3 1155.6 2000.3 1166.8 2002.2 1178.6 2004.1 1190.1 2006.0 1201.5 2007.9 1213.4 2009.8 1224.5 2011.7 1233.6 2013.6 1241.1 2015.5 1247.1 2017.5 1251.3 2019.3 1252.9 2021.3 1252.6 2023.8 1249.8 2026.4 1246.2 2028.8 1243.5 2031.5 1241.1 2033.9 1239.4 2036.5 1237.7 2039.1 1236.0 2041.8 1234.2 2044.4 1232.5 2046.8 1230.9 2049.6 1229.6 2051.9 1227.0 2054.0 1220.6 2055.7 1211.7 2058.3 1188.8 2060.1 1173.6 2062.1 1158.2 2064.0 1144.8 2065.9 1132.7 2067.8 1122.0 2069.8 1112.2 2071.7 1102.8 2073.6 1094.4 2075.5 1087.1 2077.4 1081.6 2079.3 1078.2 2081.2 1077.8 2083.1 1082.0 2085.1 1089.3 2087.0 1098.9 2088.9 1109.7 2090.8 1120.7 2092.7 1130.1 2094.6 1135.4 2096.5 1137.8 2098.5 1136.7 2100.4 1133.9 2102.3 1130.2 2104.2 1127.6 2106.1 1128.7 2108.0 1132.7 2109.9 1139.5 2111.8 1148.0 2114.2 1156.9 2116.9 1165.8 2119.0 1171.3 2121.2 1176.5 2123.3 1181.1 2125.5 1185.2 2127.7 1188.6 2129.7 1191.3 2132.3 1193.8 2134.8 1194.4 2137.4 1192.6 2139.9 1188.8 2142.5 1182.8 2145.0 1176.0 2147.5 1169.6 2150.1 1164.5 2152.1 1163.6 2154.3 1163.8 2156.5 1163.3 2158.6 1161.1 2160.7 1158.3 2162.9 1155.6 2165.0 1153.6 2167.2 1151.8 2169.2 1149.2 2172.0 1142.7 2174.3 1136.5 2176.3 1133.2 2178.2 1132.1 2180.6 1133.8 2183.3 1136.5 2185.8 1138.7 2188.4 1140.3 2190.9 1140.0 2193.5 1139.0 2196.0 1138.0 2198.6 1137.8 2201.1 1140.1 2203.7 1142.9 2206.2 1144.2 2208.8 1144.1 2210.8 1142.9 2213.0 1140.8 2215.2 1137.8 2217.3 1133.1 2219.5 1127.4 2221.5 1122.4 2224.2 1117.1 2226.6 1113.5 2229.2 1112.0 2231.7 1112.2 2234.3 1115.0 2236.8 1117.3 2239.3 1116.1 2241.9 1112.2 2244.0 1107.9 2246.2 1102.5 2248.3 1096.9 2251.0 1088.6 2253.4 1080.4 2256.0 1072.5 2258.5 1066.3 2261.1 1063.2 2263.6 1062.5 2266.1 1064.4 2268.7 1067.6 2270.8 1069.9 2273.0 1072.4 2275.1 1074.0 2277.7 1074.2 2280.2 1072.7 2282.2 1070.3 2284.3 1067.3 2286.6 1065.1 2289.1 1064.5 2291.7 1064.9 2294.2 1065.1 2296.6 1063.7 2298.8 1062.3 2300.6 1063.8 2303.2 1089.3 2305.7 1127.6 2308.3 1178.6 2310.8 1216.8 2313.4 1233.4 2315.9 1234.7 2318.5 1224.5 2321.0 1191.3 2323.6 1153.1 2325.4 1133.0 2327.4 1114.8 2329.2 1101.5 2331.2 1091.8 2333.7 1085.6 2336.3 1082.9 2338.9 1084.7 2341.4 1088.0 2343.9 1090.5 2346.5 1090.6 2348.5 1087.1 2350.7 1081.8 2352.9 1076.5 2355.4 1071.7 2358.0 1066.8 2360.6 1062.5 2363.2 1058.8 2365.9 1055.6 2368.2 1053.6 2370.9 1053.6 2373.3 1054.8 2375.9 1056.0 2378.4 1056.1 2381.1 1052.9 2383.5 1048.5 2385.8 1044.2 2387.4 1040.8" stroke="#0000ff" stroke-width="7.7"/>
<path d="M218.4 910.3 219.6 910.3 221.2 910.2 223.0 910.1 225.1 910.2 227.3 910.2 229.7 909.6 232.1 909.6 234.7 910.2 237.3 910.0 239.8 909.0 242.3 909.0 244.8 909.5 247.0 910.0 249.1 909.7 251.0 910.1 253.9 909.6 256.7 910.1 259.3 910.4 261.8 909.9 264.1 909.6 266.2 909.6 268.2 909.3 269.9 910.2 271.4 910.4 274.9 911.9 276.5 912.9 278.1 911.3 281.6 909.3 283.3 908.7 285.4 907.7 287.9 907.0 290.5 907.7 293.2 908.8 295.8 908.2 298.2 907.0 300.4 908.0 302.0 908.5 305.5 909.6 307.1 911.2 309.4 910.2 312.2 907.6 314.0 907.2 316.2 906.6 318.5 905.4 320.7 906.3 322.4 907.1 325.3 908.1 327.6 908.9 330.0 907.6 332.7 907.1 334.7 906.8 336.9 908.9 339.0 909.9 341.1 908.2 343.2 907.7 345.4 906.3 347.8 906.0 350.3 906.4 353.1 908.0 355.0 908.6 357.1 908.5 359.2 909.0 361.3 908.2 363.3 907.7 366.0 909.1 368.5 910.2 370.9 910.5 373.4 910.3 375.8 908.9 378.6 906.8 380.5 906.1 382.7 906.2 384.9 904.9 387.0 903.3 388.8 903.0 391.3 905.7 393.9 907.8 395.6 907.7 397.5 907.3 399.6 907.6 401.8 908.0 404.1 907.6 406.1 908.7 408.3 909.5 410.6 909.6 412.9 911.2 415.0 911.4 416.8 911.9 419.9 910.8 422.3 908.9 424.5 908.3 426.9 912.6 429.6 916.1 431.4 915.7 433.6 914.3 435.8 911.5 438.0 910.3 439.8 909.5 442.3 910.9 444.9 913.9 446.6 914.8 448.5 915.3 450.6 914.9 452.8 914.2 455.1 913.4 457.1 913.6 459.3 915.4 461.5 917.2 463.7 918.3 465.8 919.8 467.9 919.9 470.1 920.0 472.2 919.0 474.3 916.9 476.2 917.1 478.1 917.5 480.9 918.9 483.4 922.9 485.7 924.6 488.3 923.0 490.8 920.2 493.2 920.7 495.8 922.5 498.5 924.3 500.9 925.3 503.4 925.3 506.1 925.1 508.0 925.3 509.9 925.5 511.9 926.3 514.1 928.2 516.3 929.0 518.3 928.6 520.5 929.1 522.7 928.7 524.9 929.9 527.1 931.6 529.1 931.8 531.2 932.7 533.2 934.3 535.1 934.8 537.1 935.8 539.3 937.4 541.3 938.3 543.3 939.2 545.5 940.3 547.7 941.9 549.9 942.0 552.0 942.3 554.2 944.3 556.3 944.8 558.4 945.1 560.5 946.6 562.7 946.6 564.8 946.9 567.0 948.1 569.1 947.9 571.3 947.5 573.5 947.7 575.6 948.0 577.6 948.5 579.8 947.9 581.8 948.0 583.8 948.8 585.8 949.4 587.8 948.9 589.8 948.5 591.8 948.4 593.9 946.9 595.9 946.3 598.0 944.5 600.0 943.6 601.9 943.3 603.9 941.4 606.0 939.5 608.2 938.8 610.1 937.7 612.2 936.0 614.4 935.8 616.6 934.8 618.8 933.3 620.9 932.4 623.0 931.6 625.2 930.6 627.3 929.7 629.4 928.6 631.5 928.3 633.7 927.9 635.8 927.4 637.9 927.1 640.1 926.7 642.2 926.3 644.3 926.0 646.4 925.6 648.5 925.3 650.6 925.0 652.6 924.7 654.7 924.5 656.9 924.3 659.2 924.1 661.2 924.0 663.4 924.0 665.6 924.0 667.8 924.0 670.0 923.9 672.3 923.8 674.5 923.6 676.6 923.2 678.7 922.7 680.8 922.1 682.9 921.5 685.1 920.8 687.3 920.3 689.8 919.7 691.8 919.4 693.9 919.1 696.0 918.8 698.2 918.5 700.5 918.3 702.8 918.0 705.2 917.7 707.7 917.5 710.2 917.2 712.2 917.0 714.2 916.8 716.2 916.5 718.3 916.3 720.5 916.1 722.6 915.8 724.8 915.6 727.0 915.4 729.2 915.2 731.4 915.0 733.6 914.8 735.7 914.6 737.8 914.5 740.0 914.4 742.1 914.2 744.2 914.1 746.3 914.0 748.5 913.9 750.6 913.8 752.7 913.7 754.8 913.6 757.0 913.5 759.1 913.5 761.2 913.4 763.4 913.3 765.6 913.2 767.8 913.1 770.0 913.1 772.2 913.0 774.4 912.9 776.6 912.9 778.7 912.8 780.8 912.8 782.9 912.7 784.8 912.7 786.7 912.6 789.1 912.5 791.4 912.4 793.5 912.3 795.6 912.3 797.6 912.2 799.6 912.1 801.5 912.1 803.5 912.1 805.5 912.1 807.9 912.2 810.3 912.3 812.7 912.4 815.1 912.5 817.5 912.7 819.6 912.9 821.6 913.1 823.4 913.4 826.7 914.1 828.9 915.0 831.0 915.9 833.5 916.7 835.9 917.4 838.2 918.5 840.1 919.9 841.9 921.6 843.8 923.6 845.9 926.1 848.1 928.9 850.2 931.2 852.8 933.4 855.3 934.3 857.8 933.3 860.4 931.2 863.0 928.5 865.5 925.9 867.4 925.4 869.3 926.2 871.8 928.5 874.4 931.2 876.6 933.2 879.5 935.1 881.2 935.6 883.2 935.3 885.4 934.8 887.6 934.4 889.7 934.2 891.7 934.5 893.8 935.4 895.8 936.1 897.9 936.5 899.9 936.5 902.0 937.0 904.1 937.8 906.2 937.9 908.2 938.0 910.1 938.6 912.9 939.4 915.5 939.8 917.8 940.0 920.3 939.7 922.9 937.4 925.2 934.8 927.9 931.7 930.5 928.7 933.1 925.7 935.6 922.4 938.2 919.4 940.5 917.5 942.9 916.4 945.8 915.3 947.5 914.6 949.2 914.4 951.1 914.5 953.2 914.2 955.6 913.8 958.6 913.4 960.3 913.1 962.1 913.2 964.1 913.3 966.1 913.2 968.3 913.0 970.5 913.0 972.8 912.8 975.1 912.9 977.4 912.9 979.7 913.1 981.9 913.0 984.1 912.8 986.2 912.9 988.3 912.7 990.5 912.6 992.6 912.9 994.7 912.9 996.8 912.6 999.0 912.3 1001.1 912.1 1003.2 912.1 1005.3 912.2 1007.5 912.5 1009.6 912.5 1011.7 912.3 1013.8 912.1 1016.0 911.9 1018.1 911.8 1020.2 911.4 1022.3 911.2 1024.5 911.1 1026.6 911.2 1028.7 911.2 1030.9 910.9 1033.0 910.9 1035.1 911.1 1037.2 910.9 1039.4 910.8 1041.5 911.0 1043.6 910.8 1045.7 910.8 1047.9 910.9 1050.0 911.0 1052.1 911.0 1054.2 911.3 1056.4 911.5 1058.5 911.8 1060.6 912.3 1062.7 912.3 1064.9 912.7 1067.0 912.6 1069.1 912.7 1071.2 912.8 1073.4 913.5 1075.5 913.9 1077.6 913.6 1079.7 914.0 1081.9 914.6 1084.0 914.7 1086.1 914.7 1088.2 914.6 1090.4 914.8 1092.5 915.4 1094.6 915.5 1096.8 915.2 1098.9 915.0 1101.0 915.5 1103.1 915.7 1105.3 915.6 1107.4 915.5 1109.5 915.7 1111.6 916.0 1113.8 916.3 1116.1 916.4 1118.4 916.8 1120.7 917.1 1123.0 917.1 1125.3 917.0 1127.6 917.4 1129.8 918.0 1131.8 918.4 1133.8 918.2 1135.6 918.8 1137.1 919.1 1139.9 919.0 1141.5 919.3 1142.7 919.6 1144.4 920.2 1147.3 920.5 1148.9 920.7 1150.7 920.8 1152.7 921.0 1154.7 921.2 1157.0 921.8 1159.2 921.9 1161.6 921.7 1164.0 922.4 1166.4 922.7 1168.7 922.6 1171.1 923.1 1173.3 923.5 1175.4 923.5 1177.7 923.9 1179.9 923.7 1182.2 923.9 1184.5 924.6 1186.7 925.1 1189.0 925.1 1191.1 925.1 1193.3 925.4 1195.3 925.6 1197.3 925.4 1199.2 925.7 1200.9 926.0 1203.7 926.3 1206.3 926.3 1208.6 925.7 1210.7 925.5 1212.7 925.8 1214.5 925.9 1216.2 926.0 1219.4 928.3 1221.7 930.7 1223.9 932.5 1226.1 934.1 1228.3 935.4 1230.3 935.5 1233.0 931.6 1235.4 927.2 1237.2 925.6 1239.2 925.0 1240.9 925.9 1243.0 928.0 1245.6 929.5 1247.4 929.3 1249.4 928.9 1251.6 928.8 1254.1 928.1 1257.0 927.7 1259.0 928.0 1261.1 928.4 1263.5 928.6 1265.9 928.9 1268.4 929.3 1270.9 929.5 1273.3 929.6 1275.5 929.8 1277.4 930.1 1279.9 930.7 1281.8 930.8 1283.5 930.8 1285.3 930.9 1287.4 931.2 1290.2 931.5 1291.8 931.9 1293.4 932.3 1295.1 932.5 1296.8 932.6 1298.6 932.7 1300.6 932.9 1302.6 932.6 1304.8 932.4 1307.2 932.5 1309.8 932.8 1312.7 933.4 1315.7 933.7 1317.5 933.6 1319.4 933.6 1321.4 933.5 1323.5 933.4 1325.8 933.4 1328.1 933.4 1330.6 933.5 1333.0 933.3 1335.6 933.5 1338.1 934.0 1340.7 934.0 1343.2 933.6 1345.8 934.0 1348.3 934.3 1350.7 934.0 1353.1 934.3 1355.4 934.3 1357.7 934.4 1359.8 934.3 1361.7 934.0 1363.6 934.4 1365.2 934.4 1366.7 933.9 1371.1 934.1 1373.9 934.3 1375.6 933.8 1376.9 933.7 1378.3 933.6 1380.4 933.4 1382.4 933.3 1384.4 932.7 1386.5 932.6 1388.6 932.3 1390.8 932.0 1393.2 931.7 1395.6 931.2 1398.3 931.3 1400.1 931.2 1402.0 930.8 1403.9 930.9 1405.9 930.6 1408.0 930.5 1410.1 929.9 1412.2 929.4 1414.4 929.5 1416.7 928.9 1419.0 928.3 1421.4 928.3 1423.8 928.1 1425.8 927.6 1427.9 927.5 1430.2 927.4 1432.5 927.2 1434.8 926.7 1437.2 926.5 1439.6 926.2 1442.0 926.0 1444.4 925.9 1446.7 925.4 1449.0 924.6 1451.2 924.3 1453.2 923.8 1455.2 923.3 1456.9 923.9 1459.9 923.7 1462.3 922.9 1464.4 922.6 1466.3 922.8 1468.2 923.3 1470.2 923.2 1472.3 922.9 1474.8 922.7 1476.7 923.3 1478.6 923.6 1480.6 922.1 1482.7 921.4 1484.9 922.3 1487.1 921.4 1489.3 920.5 1491.5 920.6 1493.7 920.1 1496.0 920.6 1498.2 919.7 1500.3 919.1 1502.5 919.6 1504.6 919.1 1506.9 918.8 1509.1 919.6 1511.3 918.9 1513.5 917.5 1515.7 916.3 1517.9 915.7 1520.0 916.0 1522.0 916.1 1524.0 914.8 1525.8 915.2 1528.5 916.0 1531.0 914.9 1533.4 913.7 1535.7 913.8 1537.9 913.9 1539.9 912.2 1541.9 912.0 1543.7 911.7 1546.2 911.8 1548.3 912.4 1550.2 911.0 1552.0 910.7 1553.9 910.6 1555.9 911.0 1557.8 912.2 1559.8 911.0 1561.9 910.6 1564.1 910.6 1566.1 908.9 1568.1 909.5 1570.3 909.9 1572.5 909.9 1574.7 910.5 1576.8 909.3 1579.1 908.5 1581.4 908.5 1583.7 909.3 1585.9 909.1 1587.9 908.7 1589.6 908.2 1592.5 910.5 1594.7 911.7 1596.9 910.7 1599.3 907.6 1602.3 906.3 1604.2 905.3 1606.2 904.3 1608.4 904.0 1610.7 904.3 1612.9 904.0 1615.1 903.9 1617.3 902.5 1619.7 902.4 1622.1 901.9 1624.4 901.3 1626.3 901.3 1627.9 900.4 1630.4 902.3 1632.7 901.4 1635.5 899.1 1638.1 897.7 1640.5 895.4 1643.2 894.3 1644.9 893.4 1646.9 892.6 1649.0 893.2 1651.2 893.7 1653.4 892.7 1655.5 891.5 1657.6 890.0 1659.8 889.7 1661.8 888.6 1663.6 888.7 1665.9 890.5 1667.8 892.7 1669.9 894.4 1672.0 893.6 1674.2 891.9 1676.5 889.6 1678.9 888.5 1680.9 887.8 1683.0 886.7 1685.1 886.2 1687.2 886.3 1689.1 885.3 1691.8 884.5 1694.3 884.0 1696.7 883.8 1699.3 885.0 1701.8 886.6 1704.4 887.9 1706.9 888.2 1709.5 888.3 1712.0 889.1 1714.6 891.2 1717.1 893.9 1719.7 896.5 1722.3 900.3 1724.9 904.2 1727.3 906.9 1729.6 907.3 1731.6 907.0 1733.7 905.9 1735.8 905.6 1737.9 906.3 1740.1 905.3 1742.6 902.0 1745.3 898.1 1747.8 894.2 1750.0 890.8 1752.1 887.6 1754.1 884.9 1756.3 884.5 1758.4 885.1 1760.5 885.4 1762.6 885.5 1764.7 885.8 1766.9 886.8 1769.4 888.2 1772.0 890.7 1774.5 893.4 1776.7 894.7 1778.7 895.3 1780.9 896.1 1783.5 896.3 1786.3 896.4 1788.6 896.9 1790.6 897.4 1792.4 897.8 1794.3 896.9 1796.6 895.2 1798.8 893.0 1800.9 890.9 1803.1 889.7 1805.2 888.2 1807.7 883.9 1810.3 879.8 1812.3 878.2 1814.6 876.5 1816.6 875.2 1819.3 874.0 1821.7 873.9 1824.1 875.7 1826.8 877.6 1829.2 877.4 1831.9 876.6 1834.5 877.0 1836.8 878.7 1839.0 880.4 1840.9 881.5 1842.9 883.8 1844.7 885.1 1847.1 881.6 1849.8 877.1 1851.8 875.2 1854.0 873.8 1856.2 873.0 1858.3 873.0 1860.3 873.7 1862.6 874.2 1865.0 873.5 1867.6 872.4 1870.2 871.7 1872.8 872.7 1875.3 874.0 1877.9 875.1 1880.5 876.5 1883.1 878.0 1885.5 878.8 1887.7 879.5 1889.8 880.1 1891.9 880.1 1894.0 879.2 1896.0 877.9 1898.3 876.3 1900.8 874.5 1903.5 872.6 1905.9 871.3 1908.5 871.1 1911.0 872.6 1913.0 874.7 1915.1 877.5 1917.4 880.2 1919.9 882.5 1922.5 884.7 1925.1 886.6 1927.2 887.9 1929.3 888.8 1931.4 890.4 1933.8 892.6 1936.3 895.4 1939.1 899.3 1941.4 903.5 1944.0 908.5 1946.5 913.7 1948.6 918.5 1951.3 926.9 1953.7 933.8 1955.7 936.9 1957.9 939.1 1960.1 940.2 1962.2 939.8 1964.3 938.3 1966.4 936.3 1968.6 933.8 1970.7 930.9 1972.8 928.7 1974.9 927.6 1977.1 927.3 1979.2 927.4 1981.3 927.8 1983.4 928.7 1985.6 929.9 1987.7 931.5 1989.9 933.4 1991.9 936.3 1994.6 942.8 1997.1 951.6 1999.6 963.8 2002.2 977.1 2004.8 989.4 2007.3 1002.7 2009.2 1020.2 2011.1 1035.7 2013.0 1042.0 2014.9 1044.6 2016.8 1047.0 2018.7 1048.0 2020.5 1047.7 2022.6 1045.9 2024.5 1043.6 2026.6 1040.5 2028.9 1037.0 2031.4 1033.1 2034.0 1028.7 2036.6 1024.2 2039.2 1019.8 2041.8 1015.2 2044.2 1010.2 2046.5 1004.7 2048.6 998.7 2050.6 992.4 2053.3 983.2 2055.7 972.0 2058.3 956.1 2060.8 938.9 2063.4 922.8 2065.9 908.3 2068.5 897.1 2071.0 887.9 2073.6 879.3 2076.1 872.6 2078.7 868.0 2081.2 866.2 2083.8 868.2 2086.3 872.6 2088.8 879.0 2091.4 885.3 2093.5 887.8 2095.6 889.5 2097.8 890.4 2099.9 890.0 2102.1 888.8 2104.2 889.1 2106.3 892.0 2108.4 896.2 2110.6 900.6 2112.7 904.8 2114.7 909.2 2116.9 913.4 2119.5 917.4 2122.1 921.4 2124.6 924.8 2126.8 928.0 2128.9 930.7 2131.0 932.5 2133.1 933.4 2135.2 933.4 2137.4 932.5 2139.5 930.4 2141.6 927.5 2143.7 924.8 2145.8 922.8 2147.9 921.1 2150.1 919.7 2152.5 919.2 2155.1 919.0 2157.8 918.5 2159.9 917.5 2162.2 916.3 2164.5 914.9 2166.7 913.4 2169.4 910.6 2172.0 907.6 2174.3 905.7 2177.1 905.7 2179.4 908.3 2182.0 914.5 2184.6 921.0 2187.1 924.7 2189.7 926.1 2192.3 924.1 2194.8 921.0 2196.7 918.5 2198.6 917.2 2201.0 918.7 2203.7 921.0 2205.7 922.0 2207.8 922.8 2210.1 923.1 2212.5 922.4 2215.1 921.1 2217.7 919.7 2220.4 918.2 2223.0 916.6 2225.4 915.9 2228.1 917.8 2230.5 921.0 2233.1 925.1 2235.6 928.7 2237.5 930.3 2239.4 929.9 2241.8 926.4 2244.5 921.0 2246.6 916.7 2248.8 911.8 2250.9 907.0 2253.5 900.0 2256.0 894.2 2258.5 890.8 2261.1 889.9 2263.6 893.3 2266.2 898.1 2268.6 901.9 2271.3 904.4 2273.7 903.9 2276.4 902.3 2278.9 901.9 2281.2 903.7 2283.2 906.6 2285.3 909.5 2287.3 912.1 2289.4 914.7 2291.7 917.2 2293.9 918.5 2296.4 919.4 2298.8 920.8 2300.6 923.6 2303.2 946.5 2305.7 977.1 2307.0 1030.6 2309.6 1063.8 2312.1 1086.7 2314.7 1096.4 2317.2 1089.3 2319.8 1068.9 2321.7 1050.5 2323.6 1030.6 2324.9 997.6 2326.6 983.4 2328.7 972.0 2330.6 964.9 2332.5 960.6 2334.4 958.2 2336.3 958.0 2338.2 960.2 2340.2 963.1 2342.0 965.8 2344.0 966.9 2346.4 963.8 2349.1 959.3 2351.1 956.8 2353.3 954.3 2355.5 951.6 2357.6 948.7 2359.7 945.5 2361.8 942.7 2364.0 940.1 2366.2 937.7 2368.2 936.3 2370.9 936.8 2373.3 938.9 2375.2 942.6 2377.2 945.3 2379.7 942.9 2382.3 938.9 2384.5 935.3 2386.1 932.5" stroke="#ff0000" stroke-width="7.7"/>
<path d="M219.9 741.9 221.1 741.9 222.6 742.0 224.4 742.0 226.3 742.0 228.4 742.0 230.7 742.2 233.1 742.1 235.5 741.7 238.1 741.6 240.7 741.5 243.3 741.6 245.9 741.4 248.5 741.8 251.0 742.4 253.1 742.2 255.2 741.6 257.3 742.0 259.5 741.6 261.8 740.6 264.0 740.9 266.3 741.6 268.6 741.6 270.9 741.3 273.2 740.9 275.5 740.6 277.8 739.9 280.1 740.4 282.4 740.5 284.7 739.6 287.0 739.0 289.3 739.5 291.6 739.2 293.9 738.9 296.3 739.5 298.7 739.5 301.1 739.3 303.5 738.9 305.9 738.2 308.3 738.2 310.7 738.1 313.1 738.6 315.4 738.2 317.6 737.4 319.8 738.0 321.9 738.3 323.9 737.6 325.8 737.7 327.6 737.4 330.6 737.6 333.3 738.0 335.8 737.7 338.0 738.3 340.0 739.1 342.0 739.7 343.9 739.2 345.9 739.3 348.0 739.7 350.3 738.8 352.6 738.8 354.8 738.6 357.0 737.9 359.2 737.4 361.4 737.1 363.6 737.2 365.8 736.6 368.1 735.7 370.4 735.5 372.7 735.0 375.1 734.4 377.4 734.2 379.6 734.0 381.7 733.3 383.7 732.7 386.1 733.1 388.3 734.0 390.4 734.5 392.4 734.2 394.4 733.8 396.4 734.9 398.6 735.3 400.8 735.4 403.0 736.1 405.1 736.5 407.2 737.2 409.2 738.1 411.4 739.4 413.4 740.6 415.4 741.9 417.4 743.4 419.4 745.0 421.4 746.7 423.3 748.4 425.3 750.4 427.4 752.6 429.6 755.3 431.6 757.8 433.7 760.7 435.8 763.8 438.0 767.0 440.2 770.0 442.3 773.0 444.5 775.8 446.6 778.7 448.7 781.6 450.9 784.4 453.0 787.0 455.1 789.5 457.2 792.2 459.4 794.9 461.5 797.5 463.6 800.0 465.7 802.5 467.9 805.0 470.0 807.3 472.1 809.9 474.2 812.3 476.4 814.7 478.5 816.9 480.6 818.9 482.7 820.9 484.9 822.7 487.0 824.5 489.1 826.1 491.2 827.7 493.4 829.2 495.5 830.7 497.6 831.9 499.7 833.3 501.9 834.6 504.0 835.9 506.1 836.6 508.2 837.7 510.4 838.7 512.5 839.3 514.6 839.8 516.8 840.3 518.9 840.6 521.0 841.0 523.1 841.4 525.3 841.7 527.4 841.8 529.5 841.7 531.6 841.9 533.8 842.0 535.9 842.1 538.0 842.1 540.1 841.7 542.3 841.4 544.4 841.1 546.5 840.7 548.6 840.2 550.8 839.5 552.9 838.6 555.0 837.7 557.1 836.9 559.3 836.0 561.4 834.9 563.5 833.8 565.6 832.7 567.8 831.8 569.9 830.5 572.0 829.2 574.1 828.1 576.3 826.8 578.4 825.4 580.5 823.9 582.7 822.8 584.8 821.6 586.9 820.2 589.0 818.8 591.2 817.6 593.3 816.5 595.4 815.3 597.5 813.9 599.7 812.5 601.8 811.2 603.9 810.1 606.0 808.9 608.2 807.5 610.3 806.1 612.4 804.9 614.5 803.6 616.7 802.4 618.8 801.2 620.9 799.8 623.0 798.5 625.2 797.4 627.3 796.5 629.4 795.6 631.5 794.5 633.7 793.4 635.8 792.4 637.9 791.7 640.1 791.1 642.2 790.3 644.3 789.6 646.4 788.9 648.6 788.3 650.7 787.7 652.8 787.3 654.9 786.9 657.1 786.3 659.2 785.7 661.3 785.4 663.4 785.2 665.6 784.8 667.7 784.3 669.8 783.9 671.9 783.3 674.1 782.8 676.2 781.8 678.3 780.8 680.4 779.9 682.6 779.0 684.7 778.1 686.8 777.4 688.9 776.4 691.1 775.4 693.2 774.5 695.3 773.3 697.4 772.4 699.6 771.6 701.7 770.8 703.8 769.8 706.0 768.8 708.1 767.7 710.2 766.7 712.3 765.8 714.5 764.7 716.6 763.5 718.7 762.1 720.8 760.8 723.0 759.6 725.1 758.5 727.2 757.3 729.3 756.0 731.5 755.0 733.6 753.9 735.7 752.7 737.8 751.6 740.0 750.3 742.1 749.2 744.2 748.3 746.3 747.3 748.5 746.3 750.6 745.4 752.7 744.7 754.8 744.0 757.0 743.2 759.1 742.7 761.2 742.3 763.4 742.1 765.6 742.1 767.8 742.2 769.9 742.3 772.0 742.2 774.0 742.0 776.3 741.2 778.6 740.3 780.7 739.1 782.6 738.0 784.2 737.5 785.8 737.2 787.7 737.4 789.2 737.0 791.2 736.3 793.5 735.7 795.8 735.2 798.2 734.6 800.4 734.2 802.5 734.0 804.7 734.0 806.8 733.9 808.9 733.8 811.0 734.1 813.2 734.4 815.3 734.6 817.4 734.7 819.6 734.8 821.7 735.1 823.8 735.6 825.9 736.2 828.1 736.6 830.3 737.1 832.6 737.6 834.7 738.2 836.6 738.9 838.2 739.8 840.7 744.3 842.5 750.1 844.5 755.2 846.8 761.3 848.9 766.7 851.6 773.3 854.0 778.0 856.0 779.9 857.8 779.5 859.7 776.2 861.6 771.7 863.5 767.0 865.5 762.9 867.4 761.5 869.3 761.6 871.1 762.8 873.1 765.3 875.7 770.4 878.2 775.7 880.0 778.7 882.0 780.7 884.2 781.0 886.8 780.6 889.7 780.6 891.6 781.1 893.6 781.9 895.7 782.6 897.8 783.1 899.9 783.4 902.0 783.1 904.3 782.3 906.5 781.4 908.5 780.8 910.1 780.7 912.3 782.7 913.9 785.3 916.5 786.8 919.0 787.0 920.9 786.0 922.9 783.2 924.7 779.7 926.9 775.3 929.2 770.4 931.7 765.0 934.4 759.1 936.9 754.0 939.1 750.0 941.1 746.6 943.3 743.8 945.5 741.6 947.9 740.1 950.9 738.6 952.7 737.8 954.5 737.2 956.5 736.7 958.7 736.0 961.0 735.2 963.7 734.7 965.6 734.6 967.7 734.4 969.9 734.2 972.2 734.0 974.6 733.7 977.0 733.5 979.4 733.4 981.8 733.4 984.1 733.4 986.4 733.5 988.7 733.8 991.0 733.9 993.3 733.9 995.6 734.2 997.9 734.4 1000.1 734.6 1002.3 734.7 1004.5 734.6 1006.8 734.7 1009.1 734.6 1011.4 734.2 1013.6 733.8 1015.8 733.6 1017.9 733.1 1020.1 732.8 1022.3 732.8 1024.6 732.6 1026.8 732.5 1028.9 732.4 1031.1 732.4 1033.3 732.3 1035.6 732.2 1037.8 732.0 1040.2 732.1 1042.4 732.3 1044.6 732.5 1046.8 732.8 1049.1 733.0 1051.4 733.2 1053.7 733.5 1056.0 733.7 1058.3 734.0 1060.6 734.1 1062.9 734.5 1065.2 734.8 1067.6 735.2 1070.0 735.4 1072.3 735.6 1074.6 735.9 1076.8 736.3 1079.0 736.6 1081.0 736.9 1083.5 737.1 1085.8 737.5 1087.9 738.0 1090.0 738.3 1092.1 738.7 1094.2 739.1 1096.3 739.3 1098.5 739.5 1100.8 739.7 1103.0 739.7 1105.3 739.6 1107.4 739.7 1109.6 739.8 1111.6 739.9 1113.9 740.2 1116.1 740.5 1118.2 741.0 1120.2 741.3 1122.3 741.9 1124.4 742.6 1126.5 743.1 1128.7 743.6 1130.9 744.2 1133.1 745.0 1135.2 745.8 1137.1 746.1 1139.3 746.8 1141.2 747.4 1143.0 747.8 1145.0 748.1 1147.3 748.7 1149.3 749.3 1151.3 749.8 1153.5 750.3 1155.8 750.9 1158.1 751.5 1160.4 752.1 1162.7 752.7 1164.9 753.1 1167.1 753.7 1169.3 754.4 1171.6 754.9 1173.8 755.4 1175.9 756.1 1178.0 756.5 1180.3 757.0 1182.5 757.7 1184.7 758.4 1186.7 759.1 1188.8 759.6 1190.7 760.2 1192.9 761.1 1195.0 761.9 1197.0 763.0 1198.9 764.2 1200.9 765.5 1203.0 767.0 1205.1 768.8 1207.2 770.6 1209.2 772.6 1211.1 774.3 1213.9 776.9 1216.4 779.3 1218.8 780.7 1221.0 780.9 1223.1 780.4 1225.2 779.5 1227.4 778.0 1229.6 776.2 1231.5 776.1 1233.5 780.0 1235.4 785.8 1237.7 792.0 1240.5 797.3 1242.4 798.9 1244.6 799.4 1246.8 801.1 1249.2 804.4 1251.7 808.8 1254.5 813.8 1256.4 817.4 1258.4 821.6 1260.5 825.9 1262.6 830.2 1264.7 834.4 1266.8 838.5 1268.9 842.8 1271.0 847.3 1273.0 851.2 1274.9 854.7 1277.6 859.8 1280.1 864.0 1282.6 867.5 1285.2 870.3 1287.8 872.5 1290.2 873.9 1292.8 874.6 1295.3 873.7 1297.6 872.8 1300.1 871.3 1303.0 868.7 1304.8 866.4 1306.7 863.9 1308.8 861.0 1310.9 857.9 1313.2 854.7 1315.1 851.7 1317.1 848.4 1319.2 844.7 1321.4 841.3 1323.6 837.9 1325.9 834.4 1328.0 831.3 1330.2 828.3 1332.4 825.3 1334.7 822.2 1337.0 819.3 1339.1 816.5 1341.2 813.8 1343.6 810.9 1345.9 808.1 1348.2 805.3 1350.3 802.8 1352.3 800.6 1354.0 798.7 1356.4 795.7 1358.1 793.5 1360.0 791.0 1362.3 787.6 1364.9 784.1 1367.7 780.6 1369.5 778.8 1371.4 776.8 1373.5 775.1 1375.6 773.3 1377.9 771.8 1379.8 770.5 1381.9 769.0 1384.1 767.7 1386.3 766.7 1388.5 765.4 1390.6 764.0 1392.7 762.9 1394.8 761.8 1396.8 760.6 1398.9 759.6 1401.1 758.5 1403.4 757.6 1405.4 756.9 1407.5 756.2 1409.6 755.5 1411.8 755.1 1414.0 754.6 1416.3 753.9 1418.7 753.1 1420.8 752.5 1422.9 752.1 1425.0 751.4 1427.2 750.8 1429.5 750.1 1431.8 749.3 1434.1 748.9 1436.5 748.5 1438.5 748.0 1440.6 747.5 1442.8 747.2 1445.0 746.7 1447.2 746.2 1449.4 745.9 1451.5 745.4 1453.7 745.0 1455.7 744.8 1457.7 744.5 1460.0 744.3 1462.2 743.9 1464.4 743.7 1466.5 743.6 1468.5 743.4 1470.6 743.4 1472.7 743.3 1474.8 743.0 1477.0 742.7 1479.1 742.5 1481.3 742.1 1483.5 741.8 1485.7 741.7 1488.0 741.5 1490.3 741.0 1492.7 740.3 1494.8 739.9 1497.1 739.4 1499.4 739.1 1501.7 738.1 1504.0 737.5 1506.4 737.1 1508.6 736.2 1510.9 736.2 1513.1 735.5 1515.4 734.9 1517.7 734.5 1519.9 733.7 1522.1 733.1 1524.3 733.0 1526.5 732.7 1528.7 732.2 1530.9 731.3 1533.2 731.4 1535.4 731.5 1537.7 731.1 1540.0 731.3 1542.3 730.6 1544.5 729.7 1546.7 729.8 1548.8 730.1 1551.1 730.1 1553.4 730.1 1555.6 730.3 1557.8 731.2 1560.0 731.3 1562.1 731.7 1564.1 732.2 1566.4 732.9 1568.6 733.2 1570.8 734.0 1572.9 735.3 1574.9 736.1 1576.8 737.0 1579.1 738.1 1581.2 739.6 1583.3 740.2 1585.2 740.8 1587.0 742.0 1589.7 744.2 1592.0 746.6 1594.7 747.8 1596.6 747.3 1598.6 746.9 1600.7 746.2 1602.8 745.4 1604.9 744.7 1606.9 744.7 1609.0 745.5 1611.0 745.5 1613.1 745.2 1615.1 744.8 1617.2 745.1 1619.3 744.9 1621.4 744.0 1623.4 743.6 1625.3 743.4 1628.0 744.1 1630.3 745.4 1633.0 746.5 1634.8 747.0 1636.9 746.9 1639.0 746.7 1641.1 746.5 1643.2 747.0 1645.2 747.8 1647.3 748.6 1649.4 749.8 1651.4 750.6 1653.4 751.3 1655.7 752.6 1658.1 753.9 1660.3 755.5 1662.3 757.4 1664.6 761.1 1666.5 765.2 1668.7 769.6 1671.1 773.1 1673.7 776.6 1676.3 780.0 1679.0 782.3 1681.6 784.5 1684.0 785.3 1686.7 785.1 1689.1 784.4 1691.6 782.2 1694.2 778.1 1696.7 773.1 1699.3 767.9 1701.3 764.7 1703.5 761.7 1705.7 759.0 1707.8 756.6 1710.0 754.5 1712.0 753.9 1714.5 756.7 1717.1 761.6 1719.6 765.0 1722.2 768.8 1724.8 773.1 1727.1 778.1 1729.2 783.5 1731.2 788.4 1733.8 794.4 1736.3 798.6 1738.8 799.8 1741.4 798.6 1743.9 794.7 1746.5 789.6 1749.0 784.2 1751.6 779.4 1754.1 776.6 1756.7 775.6 1759.2 777.0 1761.8 779.4 1763.8 780.5 1766.0 781.5 1768.2 783.3 1770.3 786.3 1772.4 790.0 1774.5 793.5 1776.6 796.5 1778.7 799.3 1780.9 801.1 1783.4 801.4 1786.0 800.6 1788.6 799.8 1791.1 799.7 1793.7 799.5 1796.2 798.6 1798.9 796.7 1801.5 794.1 1803.9 790.9 1806.6 784.6 1809.0 778.2 1811.5 773.1 1814.1 769.2 1816.1 767.3 1818.3 765.9 1820.5 765.4 1822.5 766.2 1824.6 767.8 1826.8 769.2 1829.3 770.0 1831.9 770.7 1834.5 771.8 1837.1 774.2 1839.8 777.1 1842.1 778.2 1844.9 774.1 1847.2 768.0 1849.2 762.5 1851.1 757.8 1852.9 754.5 1854.9 753.2 1857.4 754.9 1860.0 757.8 1862.6 760.0 1865.1 761.6 1867.7 760.8 1870.2 760.3 1872.8 762.9 1875.3 766.7 1877.9 771.0 1880.4 775.6 1883.0 780.3 1885.5 784.5 1888.1 787.8 1890.6 789.6 1893.2 789.2 1895.7 787.1 1898.3 783.0 1900.8 778.2 1903.4 773.3 1905.9 769.2 1908.5 767.0 1911.0 766.7 1913.6 769.0 1916.1 773.1 1918.8 778.7 1921.2 784.5 1923.1 788.8 1925.1 792.2 1927.0 793.6 1929.2 794.5 1931.4 796.0 1933.6 798.8 1935.7 802.1 1937.8 804.9 1939.9 807.0 1942.0 808.7 1944.2 810.1 1946.7 811.3 1949.4 812.2 1951.8 812.6 1953.9 812.5 1955.7 811.8 1957.5 810.1 1960.1 804.9 1962.6 798.6 1965.1 791.9 1967.7 785.8 1969.8 782.9 1972.0 780.7 1974.1 779.4 1976.7 779.6 1979.2 782.0 1981.7 787.1 1984.3 793.5 1986.8 799.6 1989.4 806.2 1992.0 813.2 1994.5 821.5 1996.5 832.1 1998.3 844.5 2000.2 859.3 2002.2 875.1 2004.1 890.6 2006.0 905.7 2007.9 920.2 2009.8 933.8 2011.7 946.1 2013.6 956.7 2015.5 965.0 2017.5 970.8 2019.4 973.6 2021.3 974.1 2023.2 973.1 2025.1 969.5 2026.9 961.5 2028.9 951.6 2031.4 941.3 2034.0 931.2 2036.6 923.1 2039.1 915.9 2041.7 908.9 2044.2 903.2 2046.7 900.1 2049.3 898.1 2051.5 897.3 2053.7 896.6 2055.7 894.2 2057.9 886.0 2059.6 875.1 2062.1 849.6 2064.7 819.0 2067.2 785.8 2069.0 769.7 2071.0 755.2 2072.9 742.8 2074.9 734.8 2076.7 734.6 2078.7 739.9 2081.1 750.6 2083.8 762.9 2085.8 769.4 2088.0 775.3 2090.2 780.7 2092.3 785.5 2094.4 789.7 2096.5 793.5 2098.7 796.5 2100.9 799.2 2102.9 802.4 2105.5 809.6 2108.0 816.4 2110.0 819.2 2112.0 821.2 2114.4 822.8 2116.5 824.0 2118.9 825.1 2121.2 825.8 2123.3 826.1 2125.7 825.9 2127.8 825.0 2129.7 822.8 2132.3 816.9 2134.8 808.8 2137.4 798.5 2139.9 788.4 2142.2 781.0 2145.0 775.6 2147.0 774.2 2149.2 773.6 2151.6 773.1 2153.9 771.8 2156.2 769.5 2158.6 766.6 2160.8 763.4 2162.9 760.3 2165.2 755.9 2167.2 751.3 2169.2 747.6 2171.4 745.0 2173.6 743.2 2175.6 742.4 2178.2 743.6 2180.7 746.3 2182.7 748.8 2184.8 751.7 2187.1 753.9 2189.6 754.7 2192.3 754.7 2194.8 755.2 2197.0 756.3 2199.1 757.9 2201.1 760.3 2203.3 764.4 2205.4 769.3 2207.5 773.1 2209.6 775.0 2211.8 775.8 2213.9 775.6 2216.1 774.1 2218.2 771.7 2220.3 769.2 2222.9 765.4 2225.4 762.9 2227.9 764.1 2230.5 766.7 2233.0 770.0 2235.6 771.8 2238.0 769.2 2240.7 764.1 2242.7 760.0 2244.9 755.1 2247.1 750.1 2249.2 744.9 2251.3 739.5 2253.4 734.8 2255.6 730.8 2257.7 727.6 2259.8 725.9 2261.9 726.6 2264.1 728.9 2266.2 731.0 2268.3 732.2 2270.3 733.1 2272.6 733.5 2275.1 732.8 2277.7 731.5 2280.2 731.0 2282.4 731.6 2284.4 733.0 2286.6 734.8 2289.0 737.0 2291.6 739.6 2294.2 741.9 2297.0 742.8 2299.7 743.3 2301.9 746.3 2304.4 773.1 2307.0 824.1 2309.6 875.1 2312.1 913.4 2314.7 929.9 2317.2 931.2 2319.8 921.0 2322.3 887.9 2324.9 849.6 2326.7 830.5 2328.7 813.9 2330.6 803.1 2332.5 796.0 2334.3 791.3 2336.3 789.6 2338.8 792.0 2341.4 796.0 2343.9 800.8 2346.5 803.7 2348.5 802.0 2350.7 798.5 2352.9 794.7 2355.4 790.9 2358.0 786.8 2360.6 783.3 2363.2 780.4 2365.9 778.2 2368.2 776.9 2370.9 777.4 2373.3 779.4 2376.0 783.1 2378.4 785.8 2380.4 784.1 2382.3 780.7 2384.4 776.6 2386.1 773.1" stroke="#008000" stroke-width="8.4"/>
<path d="M220.4 683.0 221.7 683.0 223.5 682.9 225.7 683.0 228.1 682.9 230.6 682.5 233.2 682.0 235.2 682.1 237.4 682.3 239.8 682.9 242.3 682.4 244.7 681.9 247.0 681.7 249.1 681.8 251.0 682.1 253.7 681.8 256.0 682.2 258.1 683.5 259.8 684.8 261.2 685.3 263.8 689.1 266.8 683.9 268.9 681.5 271.4 679.9 274.0 679.4 276.5 679.1 279.2 679.0 281.6 678.2 283.9 678.1 286.0 679.7 288.0 681.4 290.8 685.0 293.1 687.4 295.7 686.4 298.2 674.2 300.1 675.6 302.0 678.3 304.6 678.2 306.4 674.9 308.4 672.6 310.3 673.2 312.2 675.4 314.2 677.7 316.1 679.9 318.0 678.2 319.9 679.1 321.8 685.7 323.7 690.5 325.6 687.6 327.6 683.8 329.5 684.4 331.4 684.7 333.3 682.8 335.2 680.5 337.1 682.1 339.0 684.3 340.9 686.0 342.9 688.3 345.3 689.2 348.0 689.3 350.5 691.3 353.1 693.3 355.8 690.8 358.2 686.5 360.7 677.4 362.5 673.3 364.5 671.5 366.5 672.9 368.4 674.7 370.3 671.6 372.2 668.6 374.2 670.4 376.0 673.7 378.6 680.5 381.6 686.0 383.7 695.7 385.6 695.6 387.5 694.4 390.1 696.3 392.6 690.1 394.4 694.1 396.4 697.3 398.3 690.4 400.3 683.6 402.2 686.4 404.1 689.2 406.0 686.5 407.9 683.0 409.8 683.9 411.7 684.6 413.6 682.0 415.6 680.5 417.6 683.8 419.4 688.1 421.9 693.9 423.8 690.3 425.8 685.2 427.7 682.8 429.6 683.8 431.5 691.7 433.4 698.6 435.3 691.3 437.2 683.6 439.2 687.8 441.1 692.0 443.0 689.8 444.9 687.9 446.8 690.9 448.7 693.3 450.6 690.2 452.6 687.1 454.5 689.3 456.4 693.7 458.2 697.4 460.2 699.7 462.7 697.8 465.3 695.3 467.9 698.2 470.4 701.8 472.4 701.6 474.2 700.5 476.1 697.8 478.1 695.5 480.5 695.7 483.2 696.2 485.6 694.7 488.3 694.1 490.7 695.7 493.4 698.0 495.9 699.8 498.2 700.4 500.4 700.9 502.3 701.1 504.3 697.8 506.1 694.9 508.6 696.0 511.2 697.5 513.3 696.4 516.3 695.9 517.9 696.0 519.7 696.1 521.7 696.3 524.0 696.9 526.4 697.4 529.1 697.0 531.0 696.6 533.0 696.4 535.0 696.4 537.2 696.5 539.5 696.8 541.8 696.2 544.3 695.9 546.8 695.6 549.5 695.6 551.4 696.0 553.4 696.1 555.4 696.1 557.5 696.2 559.6 696.2 561.8 696.3 564.0 696.4 566.2 696.4 568.5 696.4 570.7 696.6 573.0 696.5 575.3 696.3 577.6 696.2 579.6 696.5 581.7 696.5 583.8 696.2 585.9 696.5 588.0 696.3 590.1 696.0 592.2 695.8 594.4 695.5 596.6 695.5 598.8 695.4 601.1 695.0 603.4 695.0 605.7 694.8 608.2 694.4 610.2 694.3 612.3 694.3 614.5 694.1 616.6 693.7 618.9 693.4 621.1 693.3 623.4 693.2 625.7 693.2 628.0 692.8 630.3 692.4 632.6 692.3 634.9 692.0 637.3 691.9 639.6 691.6 641.9 691.3 644.2 690.8 646.4 690.8 648.7 690.6 650.9 690.4 653.2 690.4 655.4 690.2 657.7 690.0 659.9 689.7 662.2 689.6 664.4 689.7 666.7 689.5 668.9 689.5 671.2 689.9 673.4 689.5 675.7 689.1 677.9 689.1 680.2 688.7 682.4 688.7 684.7 688.6 686.9 688.5 689.2 688.5 691.4 688.3 693.7 688.0 695.9 688.1 698.2 688.2 700.5 688.1 702.7 687.8 705.0 687.7 707.2 687.6 709.5 687.7 711.7 687.6 714.0 687.4 716.2 687.6 718.5 687.8 720.7 687.5 723.0 687.2 725.2 687.6 727.5 687.5 729.9 687.2 732.2 687.1 734.6 687.4 737.0 687.1 739.4 686.7 741.7 686.5 744.1 686.7 746.4 687.1 748.7 686.8 750.9 686.6 753.1 686.6 755.2 686.2 757.3 686.4 759.3 686.3 761.2 686.0 763.8 686.1 766.3 686.3 768.7 686.2 770.9 685.7 773.1 685.9 775.2 686.0 777.2 685.9 779.2 685.8 781.1 685.5 783.0 685.6 784.9 686.1 786.7 686.1 789.1 685.9 791.2 685.9 793.2 686.3 795.2 686.7 797.1 686.8 799.0 687.1 801.0 687.2 803.2 687.1 805.5 687.6 807.5 688.0 809.6 688.2 811.8 688.2 814.2 688.4 816.6 688.2 819.0 688.3 821.4 688.4 823.6 688.8 825.8 688.8 827.8 688.6 829.5 688.8 831.0 689.1 833.9 689.1 834.7 689.0 838.2 688.8 839.7 688.8 841.4 689.0 843.4 689.4 845.6 689.3 847.9 689.3 850.4 689.1 852.9 688.8 855.4 688.9 858.0 689.1 860.5 689.4 862.9 689.2 865.2 688.9 867.3 689.0 869.3 689.2 872.1 689.5 874.7 689.9 877.2 690.0 879.5 690.3 881.7 690.7 883.9 691.0 885.9 691.4 887.8 691.4 889.7 691.3 892.1 691.1 893.9 690.9 895.4 690.2 897.2 690.0 899.4 689.4 902.4 688.7 904.1 688.6 905.9 688.6 907.9 688.6 910.0 688.9 912.3 689.2 914.6 689.0 917.0 688.8 919.4 689.0 921.8 689.2 924.2 689.3 926.5 689.5 928.8 689.7 931.0 689.5 933.1 689.3 935.4 689.3 937.6 689.2 939.8 689.0 941.9 688.8 944.1 688.2 946.1 688.0 948.2 688.1 950.3 687.7 952.3 687.3 954.4 687.3 956.5 686.8 958.6 686.7 960.7 686.6 962.8 686.8 964.9 686.6 967.1 686.2 969.2 686.2 971.3 686.4 973.5 686.3 975.6 686.3 977.7 686.4 979.8 686.1 982.0 685.7 984.1 685.7 986.2 685.6 988.4 685.5 990.5 685.5 992.7 685.9 994.9 685.7 997.1 685.6 999.2 685.7 1001.4 685.5 1003.5 685.4 1005.5 685.2 1007.6 685.0 1009.6 685.0 1011.9 684.8 1014.1 685.0 1016.2 685.4 1018.3 685.4 1020.3 685.3 1022.4 685.0 1024.5 684.8 1026.7 684.8 1029.1 684.6 1031.5 684.8 1033.6 684.8 1035.7 684.4 1038.0 684.7 1040.4 684.6 1042.8 684.3 1045.2 684.4 1047.6 684.3 1050.0 684.4 1052.4 684.5 1054.6 684.4 1056.8 684.4 1058.8 684.0 1060.6 684.3 1063.2 684.6 1065.5 684.5 1067.5 684.5 1069.4 684.4 1071.2 684.3 1073.0 684.1 1075.0 684.2 1077.2 684.0 1079.1 683.8 1081.2 683.9 1083.2 683.7 1085.4 683.4 1087.6 683.2 1089.8 683.3 1092.0 683.1 1094.3 682.5 1096.6 682.3 1098.9 682.3 1101.0 682.4 1103.1 682.2 1105.3 681.9 1107.5 681.7 1109.7 681.6 1112.0 681.6 1114.2 681.7 1116.4 681.5 1118.7 681.6 1120.9 681.1 1123.1 681.0 1125.3 681.3 1127.3 681.1 1129.3 681.0 1131.2 681.1 1133.2 681.3 1135.2 681.2 1137.3 681.1 1139.5 681.3 1141.9 681.5 1144.5 681.5 1147.3 681.5 1149.1 681.4 1151.0 681.2 1153.1 681.3 1155.2 681.5 1157.4 681.1 1159.6 681.4 1161.9 681.7 1164.3 681.5 1166.6 681.3 1169.0 681.6 1171.4 681.6 1173.7 681.1 1176.0 681.1 1178.3 681.5 1180.5 681.6 1182.5 681.5 1184.5 681.5 1186.4 681.5 1188.2 681.4 1191.3 681.4 1194.2 681.7 1196.9 681.6 1199.5 681.5 1201.9 681.5 1204.1 681.2 1206.1 681.3 1208.0 681.4 1209.6 681.2 1211.1 681.0 1214.8 678.9 1216.2 676.2 1218.9 673.7 1221.3 672.3 1223.4 672.9 1225.2 674.6 1227.7 683.4 1230.0 688.5 1232.8 692.8 1234.8 694.3 1237.0 695.9 1239.2 696.5 1241.4 696.1 1243.5 695.7 1245.6 695.3 1248.1 693.8 1250.7 692.8 1252.6 694.2 1254.8 696.6 1257.0 697.9 1259.5 697.1 1262.0 695.3 1264.7 692.6 1266.9 690.5 1269.2 688.2 1271.5 685.6 1273.6 683.9 1275.8 682.5 1277.7 681.5 1280.0 680.9 1281.3 680.7 1282.5 680.3 1283.9 680.2 1286.3 680.2 1290.2 679.7 1291.7 679.8 1293.4 680.1 1295.3 680.1 1297.3 679.7 1299.4 679.5 1301.6 679.8 1304.0 679.6 1306.4 679.3 1308.8 679.3 1311.3 679.3 1313.8 679.4 1316.4 679.5 1318.9 679.2 1321.4 679.1 1323.8 679.3 1326.2 679.3 1328.5 679.1 1330.8 678.9 1333.1 678.9 1335.5 679.1 1337.9 679.4 1340.3 679.6 1342.8 679.6 1345.2 679.5 1347.6 679.7 1350.0 679.6 1352.4 679.7 1354.7 679.9 1356.9 680.1 1359.1 679.9 1361.1 680.1 1363.1 680.2 1365.0 680.1 1366.7 680.2 1369.6 680.6 1372.1 680.6 1374.2 680.4 1376.0 680.8 1377.8 680.9 1379.5 680.7 1381.3 681.0 1383.2 680.8 1385.5 680.7 1387.4 680.8 1389.3 680.9 1391.2 680.5 1393.1 680.3 1395.1 680.0 1397.2 679.9 1399.3 679.8 1401.5 679.4 1403.8 679.5 1406.1 679.8 1408.5 679.6 1411.0 679.2 1413.0 679.2 1415.2 679.0 1417.4 678.6 1419.8 678.5 1422.3 678.6 1424.8 678.6 1427.3 678.6 1429.8 678.4 1432.3 677.9 1434.8 677.7 1437.1 677.5 1439.4 677.6 1441.5 677.9 1443.4 677.7 1445.2 677.5 1446.7 677.5 1450.3 677.5 1452.3 677.0 1453.5 676.7 1454.8 676.9 1456.9 676.9 1458.8 676.7 1460.7 676.4 1462.7 676.4 1464.9 676.5 1467.2 676.2 1469.6 676.0 1472.1 675.6 1474.8 675.4 1476.7 675.7 1478.6 675.7 1480.6 675.5 1482.7 675.3 1484.9 675.2 1487.1 675.0 1489.3 674.9 1491.5 674.7 1493.7 674.2 1496.0 674.0 1498.2 674.1 1500.3 674.3 1502.5 674.1 1504.7 674.0 1507.0 673.7 1509.3 673.8 1511.6 673.6 1513.9 673.2 1516.1 673.2 1518.3 673.5 1520.3 673.5 1522.3 673.4 1524.1 673.3 1525.8 673.0 1528.7 673.2 1531.1 673.1 1533.2 672.7 1535.0 672.4 1536.7 672.5 1538.6 672.3 1540.8 672.4 1543.0 672.6 1545.1 672.6 1547.0 672.6 1548.8 672.4 1551.1 671.2 1553.0 669.6 1555.2 669.1 1557.1 670.1 1559.2 671.9 1561.5 673.6 1564.1 674.9 1566.0 674.5 1568.0 674.7 1570.2 675.6 1572.4 675.3 1574.7 674.8 1576.8 674.8 1579.0 674.6 1581.3 674.1 1583.5 676.2 1585.7 675.3 1587.8 674.9 1589.6 676.7 1592.5 678.0 1594.9 678.6 1597.2 678.3 1599.7 676.6 1602.2 675.5 1604.9 675.3 1606.8 673.9 1608.9 674.3 1611.1 675.2 1613.2 675.1 1615.1 675.5 1617.8 675.9 1620.3 674.1 1622.8 674.1 1625.3 675.1 1627.9 674.2 1630.4 673.0 1633.1 672.3 1635.7 670.4 1638.1 668.8 1640.8 670.2 1643.2 670.7 1645.6 667.8 1648.3 667.6 1650.7 671.3 1653.4 676.9 1655.9 678.3 1658.1 675.7 1660.2 673.0 1662.3 670.5 1664.4 667.5 1666.5 667.0 1668.7 667.5 1671.1 668.1 1673.7 668.4 1676.3 670.0 1678.9 671.1 1681.4 672.4 1684.0 674.6 1686.5 675.9 1689.1 674.7 1691.6 672.8 1694.2 672.0 1696.7 670.9 1699.3 668.8 1701.8 668.6 1704.4 669.9 1706.9 671.3 1709.6 671.1 1712.2 669.5 1714.6 668.4 1717.3 663.8 1719.7 659.9 1722.2 661.2 1724.8 663.4 1727.2 661.1 1729.9 659.2 1732.4 659.1 1735.1 659.1 1737.6 660.3 1740.2 661.4 1742.7 662.3 1744.7 662.1 1747.0 661.0 1749.0 659.0 1751.7 661.6 1754.1 665.1 1755.9 663.1 1758.0 661.4 1760.2 661.6 1762.9 662.4 1765.6 664.9 1768.2 667.4 1770.7 670.9 1773.3 672.0 1775.8 672.3 1778.4 673.2 1780.9 673.4 1783.5 673.7 1786.0 674.1 1788.6 675.8 1791.1 678.2 1793.7 680.3 1796.2 681.2 1798.9 682.0 1801.5 682.7 1803.9 682.6 1806.3 680.1 1809.0 677.5 1810.7 677.1 1812.6 677.1 1814.7 677.3 1816.9 677.7 1819.2 677.8 1821.2 677.2 1823.2 676.9 1825.4 676.6 1827.6 676.0 1829.8 675.8 1831.9 675.6 1834.1 676.2 1836.2 676.2 1838.3 676.3 1840.4 676.3 1842.6 677.0 1844.7 677.1 1846.8 676.7 1848.9 676.6 1851.1 676.1 1853.2 675.2 1855.3 675.2 1857.4 675.2 1859.6 674.9 1861.7 674.5 1863.8 674.1 1866.0 674.5 1868.1 673.9 1870.2 673.8 1872.4 674.1 1874.6 674.6 1876.9 675.2 1879.1 675.2 1881.1 675.4 1883.0 675.8 1885.8 676.9 1888.1 677.6 1890.6 677.4 1892.4 677.4 1894.4 677.4 1896.4 676.8 1898.6 676.0 1900.8 675.8 1902.8 676.0 1904.9 675.9 1907.0 675.6 1909.2 675.9 1911.4 676.3 1913.6 676.2 1915.7 677.0 1917.8 677.8 1919.9 678.2 1922.1 678.8 1924.2 679.3 1926.3 679.8 1928.5 680.7 1930.8 681.6 1933.1 682.6 1935.4 683.5 1937.4 684.4 1939.1 685.1 1941.2 685.7 1942.6 686.0 1944.8 686.8 1946.5 687.7 1948.5 688.8 1950.7 690.1 1953.0 691.5 1955.3 692.8 1957.5 694.0 1959.6 695.1 1961.8 696.2 1963.9 697.2 1966.0 698.3 1968.1 699.3 1970.3 700.4 1972.5 701.4 1974.8 702.4 1977.0 703.4 1979.2 704.4 1981.3 705.3 1983.0 706.2 1985.7 707.6 1987.6 708.8 1989.4 710.6 1992.1 714.3 1994.5 719.5 1996.5 726.3 1998.3 734.8 2000.2 745.6 2002.2 757.8 2004.1 770.4 2006.0 783.3 2007.9 796.2 2009.8 808.8 2011.7 820.6 2013.6 831.7 2015.5 842.4 2017.5 852.1 2019.4 860.7 2021.3 867.4 2023.2 871.7 2025.1 873.8 2027.0 873.9 2028.9 872.6 2030.8 870.7 2032.8 867.4 2035.2 861.9 2037.9 854.7 2040.4 846.6 2043.0 836.8 2045.5 824.7 2048.1 811.3 2050.6 797.6 2053.2 783.3 2055.7 768.0 2058.3 752.7 2060.8 738.1 2063.4 724.6 2065.9 712.1 2068.5 701.6 2071.2 694.4 2073.6 690.2 2075.5 690.5 2077.2 688.6 2079.4 685.8 2082.4 683.6 2084.2 683.0 2086.4 682.7 2088.7 682.6 2091.0 682.5 2093.3 682.3 2095.4 681.9 2097.7 681.1 2100.0 680.2 2102.2 679.2 2104.2 678.3 2106.2 677.5 2108.6 676.8 2110.9 676.1 2113.0 675.6 2114.9 675.4 2117.2 675.3 2119.2 675.6 2121.4 676.5 2123.5 677.6 2125.8 679.1 2128.0 680.6 2130.1 681.9 2132.4 683.0 2134.4 683.8 2136.6 684.0 2139.0 683.7 2141.6 682.8 2144.2 681.9 2146.7 681.1 2149.2 680.1 2151.8 678.6 2153.9 676.8 2156.1 674.6 2158.3 672.2 2160.5 669.9 2163.1 666.8 2165.7 663.7 2168.0 661.3 2170.8 659.3 2173.5 659.1 2175.5 660.4 2177.8 662.5 2180.0 664.5 2182.1 666.3 2184.3 667.9 2186.5 668.9 2188.6 669.1 2190.6 668.8 2193.0 667.8 2195.0 666.3 2197.2 664.3 2199.4 662.1 2201.6 660.2 2203.9 658.7 2206.1 657.3 2208.3 656.1 2210.3 654.8 2212.6 652.9 2214.7 650.9 2216.8 649.3 2219.0 648.0 2221.2 647.0 2223.3 646.7 2225.5 647.9 2227.7 649.9 2229.8 651.5 2232.0 652.4 2234.3 652.9 2236.3 652.6 2239.2 650.8 2241.8 647.2 2244.1 641.3 2246.1 634.2 2249.3 619.0 2252.6 606.0 2254.6 599.1 2256.9 593.0 2259.4 589.1 2262.4 586.5 2264.3 585.5 2266.5 584.8 2268.8 584.2 2271.0 583.2 2273.2 581.8 2275.4 580.1 2277.5 578.3 2279.7 576.7 2282.0 575.4 2284.3 574.3 2286.5 573.0 2288.4 571.3 2290.9 565.7 2292.7 560.5 2296.0 557.8 2299.2 561.5 2301.4 577.8 2303.6 599.5 2305.7 623.3 2307.9 647.2 2310.1 675.4 2312.2 699.2 2314.4 712.2 2316.1 718.7 2318.3 714.4 2320.5 697.1 2322.6 671.0 2324.8 638.5 2327.0 606.0 2329.6 580.0 2332.8 560.5 2336.1 553.9 2338.0 552.3 2340.4 551.0 2342.6 549.6 2345.4 547.8 2348.0 545.3 2350.2 540.5 2352.3 534.4 2354.5 527.0 2356.7 519.3 2358.8 512.3 2361.0 506.2 2363.7 501.6 2366.4 497.6 2369.1 493.4 2371.9 488.9 2374.6 483.6 2377.3 478.1 2379.5 472.4 2381.6 467.2 2383.8 463.3 2385.5 460.7" stroke="#000" stroke-width="7.3"/>
</g>
<circle cx="218.4" cy="1172.2" r="8.2" fill="#808080"/>
<circle cx="529.1" cy="1174.2" r="8.2" fill="#808080"/>
<circle cx="838.2" cy="1174.0" r="8.2" fill="#808080"/>
<circle cx="1147.3" cy="1167.1" r="8.2" fill="#808080"/>
<circle cx="1456.9" cy="1180.6" r="8.2" fill="#808080"/>
<circle cx="1766.9" cy="1187.5" r="8.2" fill="#808080"/>
<circle cx="2075.4" cy="1151.8" r="8.2" fill="#808080"/>
<circle cx="2386.1" cy="1166.3" r="8.2" fill="#808080"/>
<path d="M219.9 1072.2L230.3 1054.2L209.5 1054.2Z" fill="#0000ff"/>
<path d="M529.1 1078.3L539.5 1060.3L518.7 1060.3Z" fill="#0000ff"/>
<path d="M838.2 1075.3L848.6 1057.3L827.8 1057.3Z" fill="#0000ff"/>
<path d="M1147.3 1069.7L1157.7 1051.7L1136.9 1051.7Z" fill="#0000ff"/>
<path d="M1457.7 1076.6L1468.1 1058.6L1447.3 1058.6Z" fill="#0000ff"/>
<path d="M1766.9 1108.4L1777.3 1090.4L1756.5 1090.4Z" fill="#0000ff"/>
<path d="M2073.6 1099.5L2084.0 1081.5L2063.2 1081.5Z" fill="#0000ff"/>
<path d="M2387.4 1049.8L2397.8 1031.8L2377.0 1031.8Z" fill="#0000ff"/>
<path d="M218.4 898.5L227.0 910.3L218.4 922.1L209.8 910.3Z" fill="#ff0000"/>
<path d="M529.1 919.9L537.7 931.7L529.1 943.5L520.5 931.7Z" fill="#ff0000"/>
<path d="M838.2 906.7L846.8 918.5L838.2 930.3L829.6 918.5Z" fill="#ff0000"/>
<path d="M1147.3 908.7L1155.9 920.5L1147.3 932.3L1138.7 920.5Z" fill="#ff0000"/>
<path d="M1456.9 913.0L1465.5 924.8L1456.9 936.6L1448.3 924.8Z" fill="#ff0000"/>
<path d="M1766.9 875.5L1775.5 887.3L1766.9 899.1L1758.3 887.3Z" fill="#ff0000"/>
<path d="M2077.4 859.5L2086.0 871.3L2077.4 883.1L2068.8 871.3Z" fill="#ff0000"/>
<path d="M2387.4 916.9L2396.0 928.7L2387.4 940.5L2378.8 928.7Z" fill="#ff0000"/>
<path d="M219.9 727.9L230.7 746.9L209.1 746.9Z" fill="#008000"/>
<path d="M529.1 827.9L539.9 846.9L518.3 846.9Z" fill="#008000"/>
<path d="M838.2 729.9L849.0 748.9L827.4 748.9Z" fill="#008000"/>
<path d="M1147.3 734.8L1158.1 753.8L1136.5 753.8Z" fill="#008000"/>
<path d="M1457.7 733.0L1468.5 752.0L1446.9 752.0Z" fill="#008000"/>
<path d="M1765.6 773.8L1776.4 792.8L1754.8 792.8Z" fill="#008000"/>
<path d="M2075.4 725.3L2086.2 744.3L2064.6 744.3Z" fill="#008000"/>
<path d="M2387.4 757.2L2398.2 776.2L2376.6 776.2Z" fill="#008000"/>
<rect x="212.9" y="675.5" width="15" height="15" fill="#000"/>
<rect x="521.6" y="689.5" width="15" height="15" fill="#000"/>
<rect x="830.7" y="680.9" width="15" height="15" fill="#000"/>
<rect x="1139.8" y="673.7" width="15" height="15" fill="#000"/>
<rect x="1450.2" y="669.1" width="15" height="15" fill="#000"/>
<rect x="1759.4" y="663.5" width="15" height="15" fill="#000"/>
<rect x="2068.0" y="684.1" width="15" height="15" fill="#000"/>
<rect x="2378.0" y="452.8" width="15" height="15" fill="#000"/>
<path d="M546.45 526.7L554.45 526.7L555.95 1370.2L547.95 1370.2Z" fill="#00dc00"/>
<path d="M900.50 584.0L908.40 584.0L906.60 1370.2L898.70 1370.2Z" fill="#00dc00"/>
<path d="M1286.65 559.1L1294.25 559.1L1294.25 1370.2L1286.65 1370.2Z" fill="#ff0000"/>
<rect x="464.8" y="1275.6" width="198" height="92.1" fill="#a0e4fc"/>
<rect x="464.8" y="1367.7" width="198" height="1.8" fill="#dff3f8"/>
<rect x="221.4" y="20" width="700" height="351" fill="#fff"/>
<rect x="228.8" y="67.8" width="120.5" height="7.6" fill="#000"/>
<rect x="281.4" y="64.1" width="15" height="15" fill="#000"/>
<text transform="translate(357.0 76.4) scale(0.990 1)" font-size="55.0" fill="#000" font-weight="bold" text-anchor="start">Si Substrate</text>
<rect x="228.8" y="133.4" width="120.5" height="7.6" fill="#008000"/>
<path d="M288.9 124.5L299.7 143.5L278.1 143.5Z" fill="#008000"/>
<text transform="translate(354.9 142.3) scale(0.990 1)" font-size="55.0" fill="#000" font-weight="bold" text-anchor="start">NaBH<tspan font-size="35.5" dy="12">4</tspan><tspan dy="-12"> treated PPy</tspan></text>
<rect x="228.8" y="199.5" width="120.5" height="7.6" fill="#ff0000"/>
<path d="M288.9 191.5L297.5 203.3L288.9 215.1L280.3 203.3Z" fill="#ff0000"/>
<text transform="translate(359.9 209.9) scale(0.990 1)" font-size="55.0" fill="#000" font-weight="bold" text-anchor="start">Na<tspan font-size="35.5" dy="12">2</tspan><tspan dy="-12">SO</tspan><tspan font-size="35.5" dy="12">3</tspan><tspan dy="-12"> treated PPy</tspan></text>
<rect x="228.8" y="265.6" width="120.5" height="7.6" fill="#0000ff"/>
<path d="M288.9 280.2L299.3 262.2L278.5 262.2Z" fill="#0000ff"/>
<text transform="translate(359.9 280.3) scale(0.990 1)" font-size="55.0" fill="#000" font-weight="bold" text-anchor="start">Na<tspan font-size="35.5" dy="12">2</tspan><tspan dy="-12">S</tspan><tspan font-size="35.5" dy="12">2</tspan><tspan dy="-12">O</tspan><tspan font-size="35.5" dy="12">3</tspan><tspan dy="-12"> treated PPy</tspan></text>
<rect x="228.8" y="331.2" width="120.5" height="7.6" fill="#808080"/>
<circle cx="288.9" cy="335.0" r="8.2" fill="#808080"/>
<text transform="translate(357.0 345.0) scale(0.990 1)" font-size="55.0" fill="#000" font-weight="bold" text-anchor="start">As grown PPy</text>
<text transform="translate(175.3 1302.2) scale(0.943 1)" font-size="58.0" fill="#000" text-anchor="end">5</text>
<text transform="translate(174.0 1129.2) scale(0.943 1)" font-size="58.0" fill="#000" text-anchor="end">10</text>
<text transform="translate(174.0 956.2) scale(0.943 1)" font-size="58.0" fill="#000" text-anchor="end">15</text>
<text transform="translate(174.0 783.1) scale(0.943 1)" font-size="58.0" fill="#000" text-anchor="end">20</text>
<text transform="translate(174.0 610.1) scale(0.943 1)" font-size="58.0" fill="#000" text-anchor="end">25</text>
<text transform="translate(174.0 437.1) scale(0.943 1)" font-size="58.0" fill="#000" text-anchor="end">30</text>
<text transform="translate(174.0 264.1) scale(0.943 1)" font-size="58.0" fill="#000" text-anchor="end">35</text>
<text transform="translate(174.0 91.1) scale(0.943 1)" font-size="58.0" fill="#000" text-anchor="end">40</text>
<text transform="translate(217.7 1461.3) scale(0.943 1)" font-size="58.0" fill="#000" text-anchor="middle">4000</text>
<text transform="translate(836.4 1461.3) scale(0.943 1)" font-size="58.0" fill="#000" text-anchor="middle">3000</text>
<text transform="translate(1455.0 1461.3) scale(0.943 1)" font-size="58.0" fill="#000" text-anchor="middle">2000</text>
<text transform="translate(2073.6 1461.3) scale(0.943 1)" font-size="58.0" fill="#000" text-anchor="middle">1000</text>
<text transform="translate(404.3 1423.6) scale(0.943 1)" font-size="58.0" fill="#000" text-anchor="middle">3700</text>
<text transform="translate(713.3 1423.6) scale(0.943 1)" font-size="58.0" fill="#000" text-anchor="middle">3200</text>
<text transform="translate(1735.0 55.7) scale(0.931 1)" font-size="58.5" fill="#000" text-anchor="middle">1550</text>
<text transform="translate(1727.8 132.1) scale(0.969 1)" font-size="70.5" fill="#000" text-anchor="middle">C=C</text>
<text transform="translate(1635.7 196.5) scale(0.931 1)" font-size="58.5" fill="#000" text-anchor="middle">1630</text>
<text transform="translate(1647.5 272.4) scale(0.969 1)" font-size="70.5" fill="#ff0000" text-anchor="middle">C=O</text>
<text transform="translate(1461.7 264.4) scale(0.969 1)" font-size="49.7" fill="#ff0000" text-anchor="middle">Carbonyl</text>
<text transform="translate(1831.0 192.6) scale(0.931 1)" font-size="58.5" fill="#000" text-anchor="middle">1465</text>
<text transform="translate(1831.8 266.7) scale(0.969 1)" font-size="70.5" fill="#000" text-anchor="middle">C-C</text>
<text transform="translate(1978.0 56.3) scale(0.931 1)" font-size="58.5" fill="#000" text-anchor="middle">1175</text>
<text transform="translate(1977.7 129.3) scale(0.922 1)" font-size="70.5" fill="#000" text-anchor="middle">C-N</text>
<text transform="translate(2211.9 49.8) scale(0.931 1)" font-size="58.5" fill="#000" text-anchor="middle">778</text>
<text transform="translate(2047.0 201.6) scale(0.931 1)" font-size="58.5" fill="#000" text-anchor="middle">1045</text>
<text transform="translate(2040.4 276.9) scale(0.969 1)" font-size="70.5" fill="#000" text-anchor="middle">N-H</text>
<text transform="translate(1877.0 344.8) scale(0.931 1)" font-size="58.5" fill="#000" text-anchor="middle">1300-</text>
<text transform="translate(1861.7 411.7) scale(0.931 1)" font-size="58.5" fill="#000" text-anchor="middle">1375</text>
<text transform="translate(1862.2 494.1) scale(0.969 1)" font-size="70.5" fill="#000" text-anchor="middle">C-H</text>
<text transform="translate(1288.4 459.5) scale(0.931 1)" font-size="58.5" fill="#000" text-anchor="middle">2270</text>
<text transform="translate(1305.8 539.1) scale(0.969 1)" font-size="70.5" fill="#ff0000" text-anchor="middle">N=C=O</text>
<text transform="translate(550.5 508.4) scale(0.931 1)" font-size="58.5" fill="#000" text-anchor="middle">3400</text>
<text transform="translate(901.0 564.1) scale(0.931 1)" font-size="58.5" fill="#000" text-anchor="middle">2928</text>
<text transform="translate(550.7 1351.1) scale(0.969 1)" font-size="71.5" fill="#ff0000" text-anchor="middle">O-H</text>
<text transform="translate(1322.7 1575.8) scale(0.972 1)" font-size="70.2" fill="#000" font-weight="bold" text-anchor="middle">Wavenumber <tspan font-size="67">(</tspan>cm<tspan font-size="47" dy="-20.8">−1</tspan><tspan font-size="67" dy="20.8">)</tspan></text>
<text transform="translate(73.9 704) rotate(-90) scale(0.972 1)" font-size="70" font-weight="bold" text-anchor="middle">Transmittance <tspan font-size="67.5">(</tspan>a.u.<tspan font-size="67.5">)</tspan></text>
</svg></body></html>
